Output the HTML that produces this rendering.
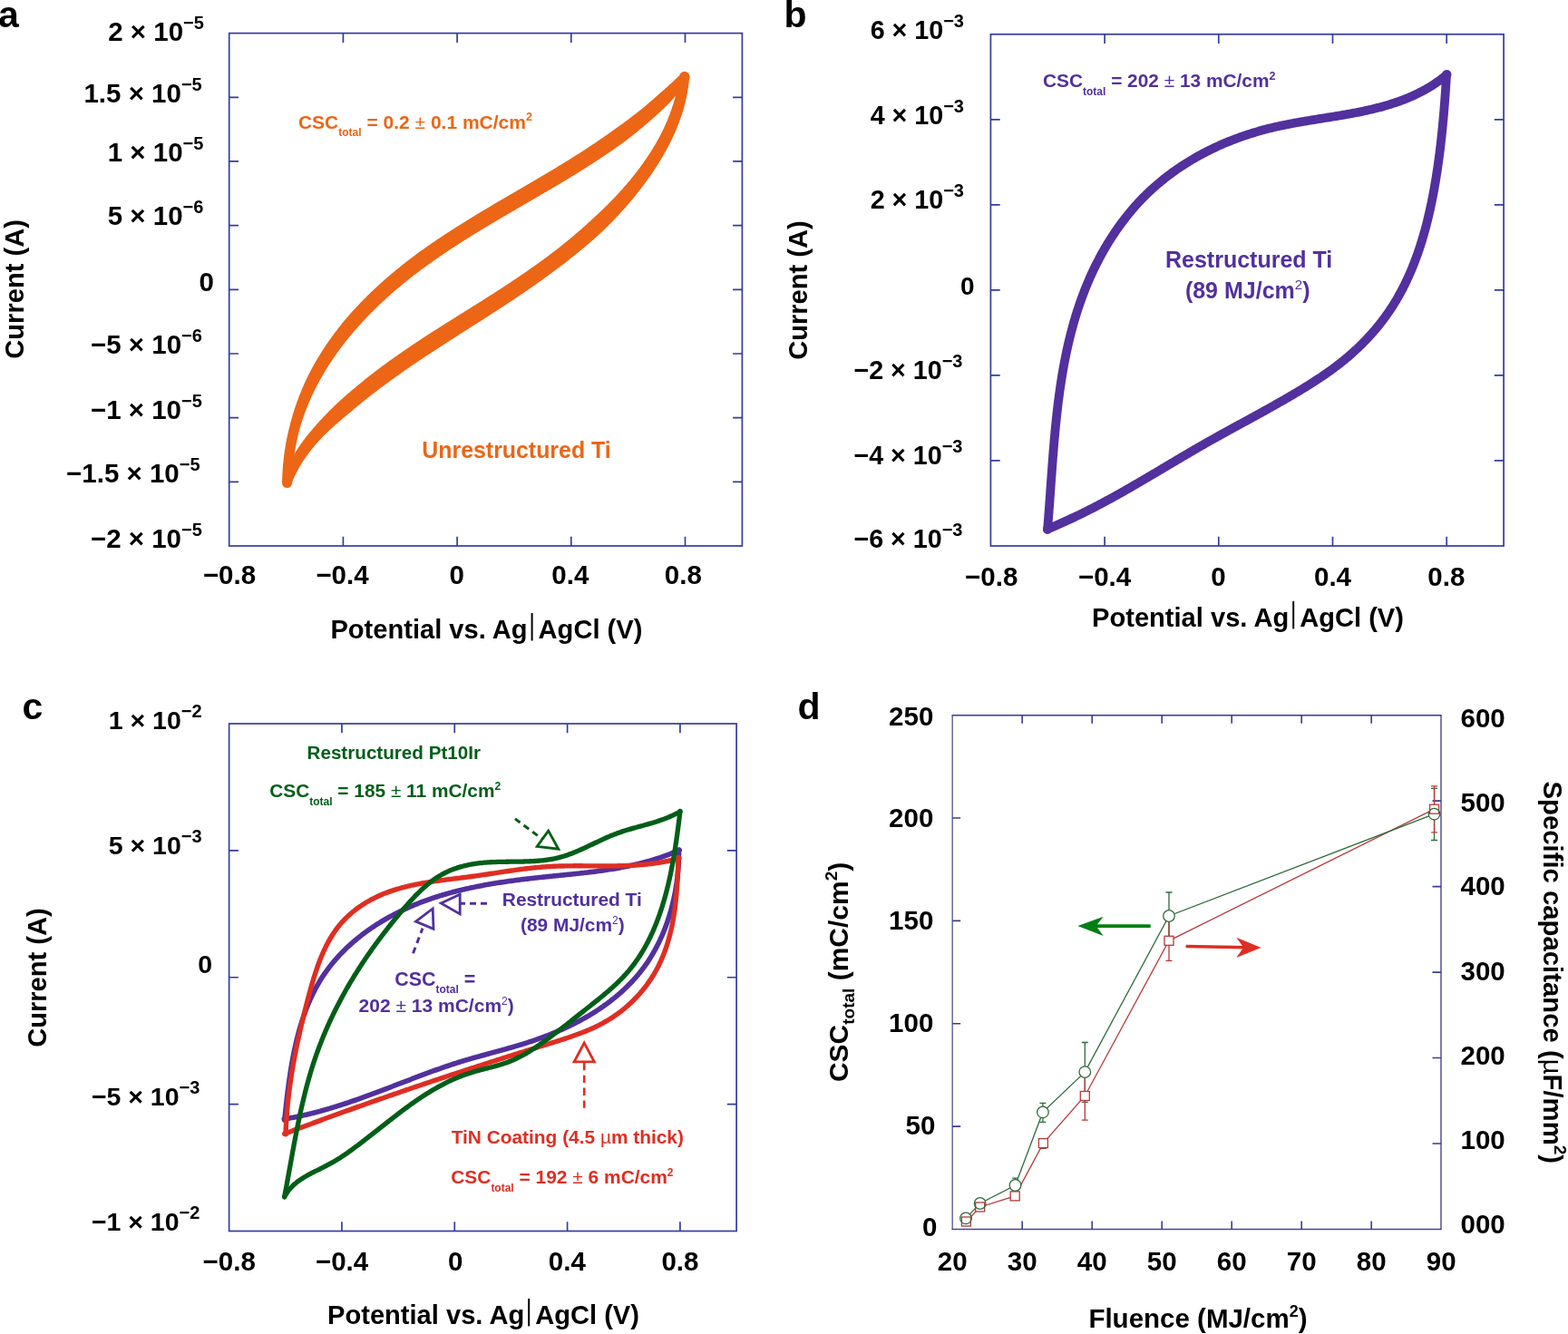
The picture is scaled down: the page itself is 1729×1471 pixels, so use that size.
<!DOCTYPE html>
<html><head><meta charset="utf-8"><title>Figure</title>
<style>html,body{margin:0;padding:0;background:#fff;overflow:hidden}svg{display:block}</style>
</head><body>
<svg width="1729" height="1471" viewBox="0 0 1729 1471" font-family="'Liberation Sans', Arial, Helvetica, sans-serif">
<rect width="1729" height="1471" fill="#fff"/>
<text x="-2" y="30" font-size="41" text-anchor="start" fill="#000" font-weight="bold" >a</text>
<text x="864.5" y="29.9" font-size="41" text-anchor="start" fill="#000" font-weight="bold" >b</text>
<text x="24.6" y="793" font-size="41" text-anchor="start" fill="#000" font-weight="bold" >c</text>
<text x="879.6" y="792.9" font-size="41" text-anchor="start" fill="#000" font-weight="bold" >d</text>
<rect x="252.7" y="36.6" width="565.7" height="565.4" fill="none" stroke="#343c9c" stroke-width="1.7"/>
<path d="M378.4,602v-10.3M378.4,36.6v10.3M504.1,602v-10.3M504.1,36.6v10.3M629.8,602v-10.3M629.8,36.6v10.3M755.5,602v-10.3M755.5,36.6v10.3M252.7,107.28h10.3M818.4,107.28h-10.3M252.7,177.95h10.3M818.4,177.95h-10.3M252.7,248.62h10.3M818.4,248.62h-10.3M252.7,319.3h10.3M818.4,319.3h-10.3M252.7,389.98h10.3M818.4,389.98h-10.3M252.7,460.65h10.3M818.4,460.65h-10.3M252.7,531.32h10.3M818.4,531.32h-10.3" stroke="#343c9c" stroke-width="1.7" fill="none"/>
<path d="M322.12,532.7 L322.16,530.95 L322.21,529.22 L322.27,527.5 L322.34,525.78 L322.42,524.07 L322.52,522.36 L322.62,520.65 L322.74,518.96 L322.87,517.26 L323.01,515.58 L323.16,513.89 L323.32,512.21 L323.49,510.54 L323.68,508.87 L323.87,507.21 L324.07,505.55 L324.29,503.9 L324.52,502.25 L324.75,500.61 L325,498.97 L325.26,497.34 L325.53,495.71 L325.8,494.08 L326.09,492.46 L326.39,490.85 L326.7,489.24 L327.02,487.63 L327.35,486.04 L327.69,484.44 L328.04,482.85 L328.4,481.26 L328.77,479.68 L329.15,478.11 L329.54,476.54 L329.94,474.97 L330.35,473.41 L330.77,471.85 L331.2,470.3 L331.65,468.75 L332.12,467.22 L332.61,465.69 L333.1,464.16 L333.6,462.64 L334.11,461.13 L334.63,459.62 L335.16,458.11 L335.7,456.61 L336.25,455.12 L336.81,453.63 L337.37,452.14 L337.95,450.66 L338.53,449.18 L339.12,447.71 L339.72,446.25 L340.33,444.78 L340.95,443.33 L341.58,441.88 L342.21,440.43 L342.86,438.99 L343.51,437.55 L344.17,436.12 L344.84,434.69 L345.51,433.26 L346.2,431.85 L346.89,430.43 L347.59,429.02 L348.3,427.62 L349.02,426.22 L349.75,424.82 L350.48,423.43 L351.22,422.05 L351.97,420.66 L352.73,419.29 L353.49,417.92 L354.26,416.55 L355.04,415.19 L355.83,413.83 L356.63,412.47 L357.43,411.12 L358.23,409.77 L359.04,408.43 L359.85,407.09 L360.67,405.75 L361.5,404.42 L362.34,403.09 L363.19,401.77 L364.04,400.45 L364.9,399.13 L365.76,397.82 L366.64,396.52 L367.52,395.22 L368.4,393.92 L369.3,392.63 L370.2,391.34 L371.11,390.05 L372.02,388.77 L372.94,387.5 L373.87,386.23 L374.8,384.96 L375.74,383.7 L376.69,382.44 L377.64,381.18 L378.6,379.93 L379.57,378.69 L380.54,377.45 L381.52,376.21 L382.51,374.98 L383.5,373.75 L384.5,372.53 L385.5,371.31 L386.51,370.09 L387.53,368.88 L388.55,367.67 L389.57,366.47 L390.61,365.27 L391.65,364.08 L392.69,362.89 L393.74,361.7 L394.8,360.52 L395.85,359.33 L396.91,358.15 L397.97,356.97 L399.04,355.79 L400.11,354.62 L401.19,353.46 L402.27,352.29 L403.36,351.14 L404.45,349.98 L405.55,348.83 L406.66,347.68 L407.77,346.54 L408.88,345.4 L410,344.27 L411.13,343.14 L412.26,342.01 L413.39,340.89 L414.53,339.77 L415.68,338.66 L416.82,337.55 L417.98,336.44 L419.14,335.34 L420.3,334.24 L421.47,333.14 L422.64,332.05 L423.81,330.97 L424.99,329.89 L426.18,328.81 L427.37,327.73 L428.56,326.66 L429.76,325.6 L430.96,324.53 L432.16,323.47 L433.37,322.42 L434.59,321.37 L435.8,320.32 L437.03,319.28 L438.25,318.24 L439.48,317.2 L440.71,316.17 L441.95,315.15 L443.19,314.12 L444.43,313.1 L445.68,312.09 L446.93,311.08 L448.18,310.07 L449.44,309.07 L450.7,308.07 L451.96,307.07 L453.23,306.08 L454.5,305.09 L455.77,304.1 L457.05,303.12 L458.33,302.15 L459.61,301.17 L460.89,300.2 L462.18,299.23 L463.47,298.27 L464.77,297.31 L466.07,296.36 L467.36,295.4 L468.66,294.44 L469.96,293.49 L471.27,292.54 L472.58,291.6 L473.89,290.65 L475.2,289.72 L476.52,288.78 L477.83,287.85 L479.16,286.92 L480.48,285.99 L481.81,285.06 L483.14,284.14 L484.47,283.22 L485.8,282.31 L487.14,281.39 L488.48,280.48 L489.82,279.57 L491.16,278.67 L492.51,277.77 L493.86,276.87 L495.21,275.97 L496.56,275.07 L497.91,274.18 L499.27,273.29 L500.63,272.4 L501.99,271.51 L503.35,270.63 L504.72,269.75 L506.09,268.87 L507.45,267.99 L508.83,267.11 L510.2,266.24 L511.57,265.37 L512.95,264.5 L514.33,263.63 L515.71,262.77 L517.09,261.9 L518.47,261.04 L519.86,260.18 L521.24,259.32 L522.63,258.46 L524.02,257.61 L525.41,256.75 L526.81,255.9 L528.2,255.05 L529.6,254.2 L530.99,253.35 L532.39,252.5 L533.79,251.66 L535.19,250.81 L536.59,249.97 L538,249.13 L539.4,248.29 L540.81,247.45 L542.21,246.61 L543.62,245.77 L545.03,244.93 L546.44,244.1 L547.85,243.26 L549.26,242.43 L550.67,241.59 L552.09,240.76 L553.5,239.93 L554.92,239.1 L556.33,238.27 L557.75,237.44 L559.16,236.61 L560.58,235.78 L562,234.95 L563.42,234.12 L564.84,233.29 L566.26,232.47 L567.68,231.64 L569.1,230.81 L570.52,229.99 L571.94,229.16 L573.36,228.33 L574.79,227.51 L576.21,226.68 L577.63,225.85 L579.06,225.03 L580.48,224.2 L581.9,223.37 L583.32,222.55 L584.75,221.72 L586.17,220.89 L587.6,220.06 L589.02,219.24 L590.44,218.41 L591.87,217.58 L593.29,216.75 L594.71,215.92 L596.13,215.09 L597.56,214.26 L598.98,213.43 L600.4,212.59 L601.82,211.76 L603.24,210.93 L604.66,210.09 L606.08,209.26 L607.5,208.42 L608.92,207.58 L610.34,206.74 L611.76,205.9 L613.18,205.06 L614.59,204.22 L616.01,203.38 L617.42,202.53 L618.84,201.69 L620.25,200.84 L621.67,199.99 L623.08,199.14 L624.49,198.29 L625.9,197.44 L627.31,196.59 L628.72,195.73 L630.12,194.87 L631.53,194.01 L632.93,193.15 L634.34,192.29 L635.74,191.43 L637.14,190.56 L638.54,189.69 L639.94,188.82 L641.34,187.95 L642.74,187.08 L644.13,186.2 L645.52,185.32 L646.92,184.44 L648.31,183.56 L649.7,182.68 L651.08,181.79 L652.47,180.9 L653.85,180.01 L655.24,179.11 L656.62,178.22 L657.99,177.32 L659.37,176.42 L660.75,175.51 L662.12,174.61 L663.49,173.7 L664.86,172.79 L666.23,171.87 L667.6,170.95 L668.96,170.03 L670.32,169.11 L671.68,168.18 L673.04,167.25 L674.39,166.32 L675.75,165.39 L677.1,164.45 L678.45,163.5 L679.79,162.56 L681.14,161.61 L682.48,160.66 L683.82,159.71 L685.16,158.75 L686.49,157.79 L687.81,156.81 L689.12,155.81 L690.43,154.82 L691.74,153.81 L693.04,152.81 L694.34,151.8 L695.63,150.79 L696.92,149.77 L698.21,148.75 L699.5,147.73 L700.79,146.7 L702.07,145.67 L703.34,144.63 L704.62,143.59 L705.89,142.55 L707.16,141.5 L708.42,140.45 L709.68,139.4 L710.94,138.34 L712.2,137.27 L713.45,136.2 L714.7,135.13 L715.94,134.05 L717.18,132.97 L718.42,131.89 L719.65,130.8 L720.88,129.7 L722.11,128.61 L723.33,127.5 L724.55,126.39 L725.76,125.28 L726.98,124.17 L728.18,123.04 L729.39,121.92 L730.59,120.79 L731.78,119.65 L732.97,118.51 L734.16,117.36 L735.34,116.21 L736.52,115.05 L737.69,113.89 L738.81,112.68 L739.93,111.45 L741.05,110.23 L742.16,109 L743.26,107.77 L744.36,106.53 L745.45,105.28 L746.54,104.03 L747.62,102.78 L748.7,101.52 L749.78,100.25 L750.85,98.98 L751.91,97.71 L752.97,96.43 L754.02,95.14 L755.07,93.85 L756.11,92.56 L757.15,91.26 L758.18,89.95 L759.2,88.65 L750.96,81.36 L749.81,82.51 L748.66,83.65 L747.51,84.77 L746.35,85.9 L745.19,87.01 L744.03,88.12 L742.86,89.23 L741.69,90.32 L740.52,91.42 L739.34,92.5 L738.15,93.58 L736.97,94.66 L735.78,95.73 L734.58,96.79 L733.38,97.85 L732.18,98.9 L730.97,99.95 L729.76,100.99 L728.55,102.02 L727.33,103.06 L726.16,104.13 L724.98,105.2 L723.8,106.26 L722.61,107.32 L721.42,108.38 L720.23,109.43 L719.03,110.48 L717.83,111.52 L716.62,112.55 L715.41,113.59 L714.2,114.62 L712.99,115.64 L711.76,116.66 L710.54,117.67 L709.31,118.68 L708.08,119.69 L706.85,120.69 L705.61,121.69 L704.37,122.68 L703.12,123.67 L701.87,124.66 L700.62,125.64 L699.36,126.62 L698.11,127.59 L696.84,128.56 L695.58,129.53 L694.31,130.49 L693.04,131.45 L691.76,132.41 L690.48,133.36 L689.2,134.31 L687.91,135.25 L686.63,136.19 L685.34,137.13 L684.04,138.06 L682.74,138.99 L681.44,139.92 L680.14,140.84 L678.83,141.77 L677.53,142.68 L676.23,143.61 L674.93,144.55 L673.63,145.49 L672.33,146.42 L671.03,147.35 L669.72,148.27 L668.41,149.2 L667.1,150.12 L665.78,151.03 L664.46,151.95 L663.14,152.86 L661.82,153.77 L660.49,154.68 L659.16,155.58 L657.83,156.48 L656.5,157.38 L655.16,158.28 L653.82,159.18 L652.48,160.07 L651.14,160.96 L649.8,161.85 L648.45,162.73 L647.1,163.62 L645.75,164.5 L644.39,165.38 L643.03,166.26 L641.68,167.13 L640.31,168 L638.95,168.88 L637.59,169.75 L636.22,170.61 L634.85,171.48 L633.48,172.34 L632.11,173.21 L630.73,174.07 L629.36,174.93 L627.98,175.79 L626.6,176.64 L625.22,177.5 L623.83,178.35 L622.45,179.2 L621.06,180.05 L619.68,180.9 L618.29,181.75 L616.89,182.6 L615.5,183.44 L614.11,184.29 L612.71,185.13 L611.32,185.97 L609.92,186.81 L608.52,187.65 L607.12,188.49 L605.72,189.33 L604.31,190.17 L602.91,191 L601.5,191.84 L600.1,192.67 L598.69,193.51 L597.28,194.34 L595.87,195.18 L594.46,196.01 L593.05,196.84 L591.64,197.67 L590.23,198.5 L588.81,199.33 L587.4,200.16 L585.98,200.99 L584.57,201.82 L583.15,202.65 L581.73,203.48 L580.31,204.31 L578.9,205.14 L577.48,205.97 L576.06,206.8 L574.64,207.63 L573.22,208.45 L571.79,209.28 L570.37,210.11 L568.95,210.94 L567.53,211.77 L566.11,212.6 L564.69,213.43 L563.26,214.26 L561.84,215.09 L560.42,215.92 L558.99,216.76 L557.57,217.59 L556.15,218.42 L554.73,219.25 L553.3,220.09 L551.88,220.92 L550.46,221.76 L549.04,222.6 L547.61,223.43 L546.19,224.27 L544.77,225.11 L543.35,225.95 L541.93,226.79 L540.51,227.63 L539.09,228.48 L537.67,229.32 L536.25,230.17 L534.83,231.01 L533.41,231.86 L531.99,232.71 L530.57,233.56 L529.16,234.41 L527.74,235.27 L526.33,236.12 L524.91,236.98 L523.5,237.84 L522.08,238.7 L520.67,239.56 L519.26,240.42 L517.85,241.28 L516.44,242.15 L515.03,243.02 L513.63,243.89 L512.22,244.76 L510.82,245.64 L509.41,246.51 L508.01,247.39 L506.61,248.27 L505.21,249.15 L503.81,250.04 L502.41,250.92 L501.01,251.81 L499.62,252.7 L498.23,253.6 L496.83,254.49 L495.44,255.39 L494.05,256.29 L492.67,257.2 L491.28,258.1 L489.9,259.01 L488.51,259.92 L487.13,260.84 L485.75,261.75 L484.38,262.67 L483,263.6 L481.63,264.52 L480.26,265.45 L478.89,266.38 L477.52,267.32 L476.15,268.25 L474.79,269.19 L473.43,270.14 L472.07,271.08 L470.71,272.03 L469.35,272.99 L468,273.94 L466.65,274.9 L465.3,275.87 L463.96,276.83 L462.61,277.81 L461.27,278.78 L459.93,279.76 L458.59,280.74 L457.26,281.72 L455.93,282.71 L454.6,283.71 L453.28,284.71 L451.96,285.72 L450.64,286.73 L449.33,287.74 L448.02,288.76 L446.71,289.78 L445.4,290.8 L444.1,291.83 L442.8,292.87 L441.5,293.9 L440.21,294.95 L438.92,295.99 L437.63,297.04 L436.35,298.1 L435.07,299.16 L433.79,300.22 L432.51,301.29 L431.24,302.36 L429.97,303.43 L428.71,304.51 L427.45,305.6 L426.19,306.68 L424.94,307.78 L423.69,308.87 L422.45,309.97 L421.2,311.08 L419.97,312.19 L418.73,313.3 L417.5,314.42 L416.28,315.54 L415.06,316.67 L413.84,317.8 L412.62,318.94 L411.42,320.08 L410.21,321.22 L409.01,322.37 L407.82,323.52 L406.62,324.68 L405.44,325.84 L404.26,327.01 L403.08,328.18 L401.91,329.35 L400.74,330.53 L399.57,331.72 L398.42,332.9 L397.26,334.1 L396.11,335.29 L394.97,336.49 L393.83,337.7 L392.7,338.91 L391.57,340.13 L390.45,341.34 L389.33,342.57 L388.22,343.8 L387.11,345.03 L386.01,346.27 L384.92,347.51 L383.83,348.75 L382.74,350.01 L381.68,351.27 L380.61,352.54 L379.56,353.81 L378.51,355.09 L377.46,356.37 L376.42,357.66 L375.39,358.95 L374.36,360.24 L373.34,361.54 L372.33,362.85 L371.32,364.16 L370.32,365.47 L369.33,366.79 L368.34,368.11 L367.36,369.44 L366.38,370.77 L365.41,372.1 L364.45,373.44 L363.49,374.79 L362.54,376.14 L361.6,377.49 L360.67,378.85 L359.74,380.21 L358.82,381.58 L357.91,382.95 L357,384.33 L356.1,385.71 L355.21,387.1 L354.32,388.49 L353.44,389.88 L352.57,391.28 L351.71,392.68 L350.85,394.09 L350.01,395.51 L349.17,396.92 L348.33,398.35 L347.51,399.77 L346.69,401.2 L345.88,402.64 L345.08,404.08 L344.29,405.53 L343.52,406.98 L342.75,408.44 L341.99,409.91 L341.24,411.38 L340.5,412.85 L339.76,414.33 L339.03,415.81 L338.32,417.3 L337.61,418.79 L336.91,420.28 L336.21,421.78 L335.53,423.29 L334.86,424.8 L334.19,426.31 L333.53,427.83 L332.88,429.35 L332.24,430.88 L331.61,432.41 L330.99,433.95 L330.38,435.49 L329.78,437.03 L329.18,438.58 L328.6,440.14 L328.02,441.7 L327.46,443.26 L326.9,444.83 L326.35,446.4 L325.81,447.98 L325.29,449.56 L324.77,451.14 L324.26,452.73 L323.76,454.33 L323.27,455.93 L322.79,457.53 L322.32,459.14 L321.86,460.75 L321.41,462.37 L320.97,463.99 L320.54,465.62 L320.11,467.25 L319.68,468.88 L319.25,470.51 L318.83,472.15 L318.43,473.79 L318.03,475.44 L317.65,477.09 L317.28,478.75 L316.91,480.41 L316.56,482.08 L316.22,483.75 L315.88,485.42 L315.56,487.1 L315.25,488.79 L314.95,490.48 L314.66,492.18 L314.38,493.88 L314.12,495.58 L313.86,497.29 L313.61,499.01 L313.38,500.73 L313.16,502.46 L312.94,504.18 L312.74,505.92 L312.55,507.66 L312.38,509.4 L312.21,511.15 L312.05,512.91 L311.91,514.67 L311.78,516.43 L311.66,518.2 L311.55,519.97 L311.45,521.75 L311.37,523.53 L311.29,525.32 L311.23,527.11 L311.18,528.91 L311.14,530.71 L311.12,532.5 Z" fill="#ec6616"/>
<circle cx="316.62" cy="532.6" r="5.5" fill="#ec6616"/>
<circle cx="755.08" cy="85.01" r="5.5" fill="#ec6616"/>
<path d="M749.26,83.77 L749.05,85.37 L748.82,86.94 L748.58,88.5 L748.32,90.06 L748.06,91.62 L747.77,93.17 L747.48,94.72 L747.17,96.26 L746.84,97.79 L746.5,99.32 L746.15,100.85 L745.79,102.37 L745.41,103.89 L745.02,105.41 L744.61,106.91 L744.2,108.42 L743.77,109.92 L743.33,111.41 L742.87,112.9 L742.41,114.39 L741.95,115.88 L741.48,117.36 L740.99,118.84 L740.49,120.31 L739.99,121.78 L739.46,123.25 L738.93,124.71 L738.39,126.17 L737.83,127.62 L737.27,129.07 L736.69,130.52 L736.1,131.96 L735.5,133.4 L734.89,134.83 L734.27,136.26 L733.64,137.68 L732.99,139.1 L732.34,140.52 L731.68,141.93 L731,143.33 L730.32,144.74 L729.63,146.14 L728.92,147.53 L728.21,148.92 L727.49,150.31 L726.76,151.69 L726.01,153.07 L725.26,154.44 L724.5,155.81 L723.72,157.17 L722.94,158.53 L722.14,159.88 L721.34,161.23 L720.53,162.57 L719.71,163.91 L718.89,165.25 L718.05,166.58 L717.21,167.9 L716.36,169.23 L715.5,170.54 L714.63,171.86 L713.76,173.17 L712.88,174.47 L711.99,175.77 L711.09,177.07 L710.19,178.36 L709.28,179.65 L708.36,180.93 L707.44,182.21 L706.51,183.48 L705.57,184.75 L704.63,186.02 L703.68,187.28 L702.73,188.53 L701.76,189.78 L700.8,191.03 L699.82,192.27 L698.84,193.51 L697.86,194.75 L696.87,195.97 L695.87,197.2 L694.87,198.41 L693.86,199.63 L692.84,200.83 L691.82,202.04 L690.8,203.23 L689.77,204.43 L688.74,205.62 L687.7,206.8 L686.65,207.98 L685.61,209.16 L684.55,210.33 L683.49,211.5 L682.43,212.66 L681.36,213.82 L680.29,214.98 L679.22,216.13 L678.13,217.27 L677.05,218.41 L675.96,219.55 L674.86,220.68 L673.76,221.81 L672.66,222.94 L671.55,224.06 L670.44,225.18 L669.32,226.29 L668.2,227.4 L667.08,228.51 L665.95,229.61 L664.81,230.7 L663.68,231.8 L662.53,232.89 L661.39,233.97 L660.24,235.06 L659.09,236.13 L657.93,237.21 L656.77,238.28 L655.6,239.35 L654.43,240.41 L653.27,241.48 L652.11,242.56 L650.95,243.64 L649.79,244.71 L648.63,245.78 L647.46,246.85 L646.28,247.91 L645.11,248.97 L643.92,250.03 L642.74,251.08 L641.55,252.13 L640.36,253.18 L639.17,254.22 L637.97,255.26 L636.77,256.3 L635.56,257.33 L634.35,258.36 L633.14,259.39 L631.93,260.42 L630.71,261.44 L629.49,262.46 L628.26,263.47 L627.04,264.49 L625.8,265.5 L624.57,266.5 L623.33,267.51 L622.1,268.51 L620.85,269.51 L619.61,270.5 L618.36,271.5 L617.11,272.49 L615.85,273.47 L614.6,274.46 L613.34,275.44 L612.08,276.42 L610.81,277.4 L609.55,278.37 L608.28,279.34 L607.01,280.31 L605.73,281.28 L604.45,282.24 L603.17,283.19 L601.88,284.14 L600.59,285.09 L599.3,286.04 L598.01,286.98 L596.71,287.92 L595.41,288.86 L594.11,289.8 L592.81,290.73 L591.51,291.67 L590.2,292.59 L588.9,293.52 L587.59,294.45 L586.28,295.37 L584.96,296.29 L583.65,297.21 L582.33,298.13 L581.01,299.04 L579.69,299.95 L578.37,300.86 L577.05,301.77 L575.73,302.68 L574.4,303.58 L573.07,304.48 L571.74,305.38 L570.41,306.28 L569.08,307.18 L567.75,308.07 L566.42,308.97 L565.08,309.86 L563.75,310.75 L562.41,311.63 L561.07,312.52 L559.73,313.4 L558.39,314.28 L557.05,315.16 L555.71,316.04 L554.36,316.92 L553.02,317.8 L551.67,318.67 L550.33,319.54 L548.98,320.41 L547.63,321.28 L546.28,322.15 L544.93,323.02 L543.59,323.88 L542.23,324.75 L540.88,325.61 L539.53,326.47 L538.18,327.34 L536.83,328.2 L535.47,329.05 L534.12,329.91 L532.76,330.77 L531.41,331.63 L530.05,332.48 L528.69,333.34 L527.34,334.19 L525.98,335.05 L524.62,335.9 L523.26,336.76 L521.9,337.61 L520.54,338.46 L519.18,339.31 L517.82,340.16 L516.46,341.02 L515.1,341.87 L513.74,342.72 L512.38,343.57 L511.02,344.42 L509.66,345.27 L508.3,346.12 L506.94,346.97 L505.57,347.83 L504.21,348.68 L502.85,349.53 L501.49,350.38 L500.13,351.23 L498.76,352.09 L497.4,352.94 L496.04,353.79 L494.68,354.65 L493.32,355.5 L491.95,356.36 L490.59,357.22 L489.23,358.07 L487.87,358.93 L486.51,359.79 L485.15,360.65 L483.79,361.51 L482.43,362.38 L481.07,363.24 L479.71,364.1 L478.35,364.97 L476.99,365.84 L475.63,366.7 L474.27,367.57 L472.91,368.44 L471.55,369.32 L470.2,370.2 L468.85,371.08 L467.5,371.97 L466.15,372.85 L464.8,373.74 L463.45,374.63 L462.1,375.52 L460.75,376.42 L459.41,377.31 L458.06,378.21 L456.72,379.11 L455.37,380.01 L454.03,380.92 L452.68,381.82 L451.34,382.73 L450,383.64 L448.66,384.56 L447.32,385.47 L445.98,386.39 L444.64,387.31 L443.31,388.23 L441.97,389.16 L440.64,390.09 L439.3,391.02 L437.97,391.95 L436.64,392.89 L435.31,393.82 L433.98,394.77 L432.65,395.71 L431.32,396.66 L430,397.61 L428.67,398.56 L427.35,399.51 L426.03,400.47 L424.71,401.43 L423.39,402.4 L422.08,403.36 L420.76,404.33 L419.45,405.31 L418.14,406.28 L416.83,407.27 L415.54,408.26 L414.24,409.26 L412.94,410.26 L411.65,411.26 L410.36,412.26 L409.07,413.27 L407.78,414.28 L406.5,415.29 L405.21,416.31 L403.93,417.33 L402.65,418.35 L401.38,419.37 L400.1,420.4 L398.83,421.43 L397.56,422.47 L396.29,423.5 L395.03,424.54 L393.77,425.59 L392.51,426.63 L391.25,427.68 L390,428.73 L388.74,429.79 L387.49,430.85 L386.25,431.91 L385,432.97 L383.76,434.04 L382.52,435.11 L381.29,436.19 L380.06,437.26 L378.83,438.34 L377.6,439.43 L376.38,440.52 L375.15,441.61 L373.94,442.7 L372.72,443.8 L371.54,444.93 L370.36,446.07 L369.19,447.21 L368.02,448.35 L366.85,449.5 L365.68,450.65 L364.52,451.8 L363.36,452.96 L362.2,454.12 L361.05,455.29 L359.91,456.47 L358.76,457.65 L357.63,458.83 L356.49,460.02 L355.37,461.21 L354.25,462.41 L353.13,463.62 L352.02,464.83 L350.92,466.05 L349.82,467.27 L348.73,468.5 L347.65,469.74 L346.58,470.98 L345.51,472.23 L344.43,473.47 L343.36,474.72 L342.3,475.98 L341.25,477.24 L340.21,478.51 L339.17,479.79 L338.15,481.07 L337.13,482.37 L336.13,483.67 L335.13,484.98 L334.15,486.3 L333.18,487.63 L332.21,488.97 L331.26,490.31 L330.32,491.67 L329.39,493.03 L328.48,494.41 L327.58,495.79 L326.69,497.19 L325.81,498.59 L324.94,500 L324.09,501.43 L323.25,502.86 L322.43,504.31 L321.62,505.76 L320.83,507.23 L320.05,508.7 L319.28,510.19 L318.54,511.69 L317.8,513.2 L317.09,514.72 L316.38,516.25 L315.7,517.79 L315.03,519.35 L314.38,520.91 L313.75,522.49 L313.13,524.08 L312.53,525.68 L311.95,527.3 L311.4,528.89 L321.72,532.71 L322.32,531.21 L322.92,529.75 L323.54,528.31 L324.17,526.87 L324.82,525.45 L325.48,524.04 L326.17,522.64 L326.86,521.25 L327.57,519.88 L328.29,518.51 L329.03,517.16 L329.79,515.81 L330.55,514.48 L331.33,513.15 L332.13,511.84 L332.93,510.53 L333.76,509.24 L334.59,507.95 L335.44,506.67 L336.3,505.41 L337.17,504.15 L338.05,502.9 L338.95,501.65 L339.86,500.42 L340.77,499.2 L341.71,497.98 L342.65,496.77 L343.6,495.57 L344.57,494.37 L345.54,493.18 L346.53,492 L347.52,490.83 L348.53,489.67 L349.54,488.51 L350.57,487.35 L351.6,486.21 L352.65,485.07 L353.7,483.93 L354.76,482.8 L355.83,481.68 L356.93,480.58 L358.04,479.48 L359.15,478.4 L360.27,477.31 L361.4,476.23 L362.53,475.16 L363.68,474.09 L364.83,473.03 L365.98,471.97 L367.15,470.91 L368.32,469.86 L369.49,468.82 L370.67,467.77 L371.86,466.74 L373.05,465.7 L374.25,464.67 L375.45,463.64 L376.66,462.61 L377.87,461.59 L379.09,460.57 L380.31,459.55 L381.53,458.54 L382.76,457.53 L383.99,456.52 L385.19,455.48 L386.4,454.45 L387.61,453.42 L388.82,452.39 L390.04,451.36 L391.26,450.34 L392.48,449.32 L393.7,448.3 L394.93,447.28 L396.16,446.27 L397.39,445.26 L398.63,444.26 L399.87,443.26 L401.11,442.26 L402.36,441.26 L403.6,440.27 L404.85,439.28 L406.1,438.29 L407.36,437.3 L408.62,436.32 L409.88,435.34 L411.14,434.36 L412.4,433.39 L413.67,432.42 L414.94,431.45 L416.21,430.48 L417.48,429.52 L418.76,428.56 L420.04,427.6 L421.32,426.65 L422.6,425.7 L423.88,424.75 L425.17,423.8 L426.46,422.86 L427.75,421.92 L429.04,420.98 L430.33,420.03 L431.61,419.09 L432.9,418.15 L434.19,417.21 L435.49,416.27 L436.78,415.34 L438.08,414.41 L439.38,413.48 L440.68,412.55 L441.98,411.63 L443.28,410.71 L444.59,409.79 L445.89,408.87 L447.2,407.96 L448.51,407.05 L449.82,406.14 L451.13,405.23 L452.44,404.33 L453.76,403.43 L455.08,402.53 L456.39,401.63 L457.71,400.74 L459.03,399.84 L460.36,398.95 L461.68,398.06 L463,397.17 L464.33,396.29 L465.66,395.4 L466.99,394.52 L468.32,393.64 L469.65,392.76 L470.98,391.89 L472.31,391.01 L473.65,390.14 L474.98,389.26 L476.32,388.39 L477.66,387.52 L479,386.65 L480.34,385.79 L481.68,384.92 L483.01,384.04 L484.35,383.17 L485.69,382.3 L487.03,381.43 L488.37,380.56 L489.71,379.69 L491.05,378.82 L492.39,377.95 L493.74,377.09 L495.08,376.22 L496.43,375.36 L497.77,374.49 L499.12,373.63 L500.47,372.76 L501.81,371.9 L503.16,371.04 L504.51,370.17 L505.86,369.31 L507.21,368.45 L508.56,367.59 L509.91,366.73 L511.27,365.86 L512.62,365 L513.97,364.14 L515.33,363.28 L516.68,362.42 L518.03,361.56 L519.39,360.69 L520.74,359.83 L522.1,358.97 L523.45,358.1 L524.81,357.24 L526.17,356.38 L527.52,355.51 L528.88,354.65 L530.24,353.78 L531.59,352.92 L532.95,352.05 L534.31,351.18 L535.67,350.31 L537.02,349.44 L538.38,348.57 L539.74,347.7 L541.09,346.83 L542.45,345.95 L543.81,345.08 L545.17,344.2 L546.52,343.33 L547.88,342.45 L549.24,341.57 L550.59,340.69 L551.95,339.81 L553.31,338.92 L554.66,338.04 L556.02,337.15 L557.38,336.26 L558.73,335.37 L560.09,334.48 L561.44,333.59 L562.79,332.69 L564.15,331.79 L565.5,330.89 L566.85,329.99 L568.21,329.09 L569.56,328.19 L570.91,327.28 L572.26,326.37 L573.61,325.46 L574.95,324.55 L576.3,323.63 L577.65,322.71 L579,321.8 L580.34,320.87 L581.68,319.95 L583.03,319.02 L584.37,318.1 L585.71,317.17 L587.05,316.23 L588.39,315.3 L589.72,314.36 L591.06,313.42 L592.39,312.48 L593.73,311.54 L595.06,310.59 L596.39,309.64 L597.72,308.69 L599.05,307.73 L600.37,306.78 L601.7,305.82 L603.02,304.86 L604.34,303.89 L605.66,302.92 L606.98,301.95 L608.29,300.98 L609.61,300.01 L610.92,299.03 L612.23,298.05 L613.54,297.06 L614.84,296.08 L616.15,295.09 L617.46,294.11 L618.76,293.12 L620.06,292.13 L621.37,291.13 L622.66,290.14 L623.96,289.14 L625.26,288.13 L626.55,287.13 L627.84,286.12 L629.12,285.11 L630.41,284.09 L631.69,283.07 L632.97,282.05 L634.25,281.03 L635.52,280 L636.79,278.97 L638.06,277.93 L639.33,276.89 L640.59,275.85 L641.85,274.8 L643.11,273.76 L644.37,272.7 L645.62,271.65 L646.87,270.59 L648.12,269.53 L649.36,268.46 L650.6,267.39 L651.84,266.31 L653.07,265.24 L654.3,264.16 L655.53,263.07 L656.75,261.98 L657.97,260.89 L659.19,259.79 L660.4,258.69 L661.61,257.59 L662.82,256.48 L664.02,255.37 L665.22,254.26 L666.4,253.12 L667.57,251.97 L668.74,250.82 L669.9,249.67 L671.06,248.51 L672.21,247.35 L673.37,246.18 L674.51,245.01 L675.65,243.83 L676.79,242.66 L677.92,241.47 L679.05,240.29 L680.18,239.09 L681.3,237.9 L682.42,236.7 L683.53,235.5 L684.64,234.29 L685.74,233.08 L686.84,231.86 L687.93,230.64 L689.02,229.41 L690.1,228.19 L691.18,226.95 L692.26,225.71 L693.33,224.47 L694.39,223.23 L695.45,221.97 L696.51,220.72 L697.56,219.46 L698.61,218.19 L699.65,216.92 L700.68,215.65 L701.71,214.37 L702.74,213.09 L703.76,211.8 L704.77,210.51 L705.78,209.21 L706.78,207.91 L707.78,206.6 L708.77,205.29 L709.76,203.98 L710.75,202.66 L711.73,201.34 L712.7,200.01 L713.67,198.68 L714.64,197.34 L715.59,196 L716.54,194.65 L717.49,193.3 L718.43,191.94 L719.36,190.58 L720.28,189.21 L721.2,187.84 L722.11,186.46 L723.01,185.08 L723.91,183.69 L724.8,182.3 L725.68,180.9 L726.56,179.5 L727.42,178.09 L728.28,176.68 L729.13,175.26 L729.97,173.84 L730.81,172.41 L731.63,170.98 L732.45,169.55 L733.26,168.1 L734.06,166.66 L734.85,165.21 L735.63,163.75 L736.4,162.29 L737.17,160.82 L737.93,159.36 L738.68,157.88 L739.42,156.41 L740.15,154.92 L740.87,153.44 L741.58,151.95 L742.28,150.45 L742.97,148.95 L743.65,147.44 L744.32,145.93 L744.98,144.41 L745.63,142.89 L746.27,141.37 L746.89,139.84 L747.51,138.3 L748.11,136.76 L748.7,135.21 L749.28,133.66 L749.85,132.11 L750.41,130.55 L750.95,128.99 L751.48,127.42 L752,125.84 L752.51,124.26 L753.01,122.68 L753.49,121.09 L753.96,119.5 L754.41,117.9 L754.84,116.29 L755.25,114.68 L755.65,113.07 L756.03,111.45 L756.4,109.82 L756.76,108.19 L757.1,106.56 L757.42,104.92 L757.74,103.28 L758.04,101.63 L758.32,99.98 L758.59,98.33 L758.84,96.67 L759.08,95.01 L759.31,93.34 L759.52,91.67 L759.71,89.99 L759.89,88.32 L760.05,86.63 L760.19,84.97 Z" fill="#ec6616"/>
<circle cx="754.73" cy="84.37" r="5.5" fill="#ec6616"/>
<circle cx="316.56" cy="530.8" r="5.5" fill="#ec6616"/>
<text x="224.9" y="45" font-size="29.5" text-anchor="end" font-weight="bold">2 × 10<tspan font-size="20" dy="-13">−5</tspan></text>
<text x="222.7" y="112.8" font-size="29.5" text-anchor="end" font-weight="bold">1.5 × 10<tspan font-size="20" dy="-13">−5</tspan></text>
<text x="224.4" y="177.9" font-size="29.5" text-anchor="end" font-weight="bold">1 × 10<tspan font-size="20" dy="-13">−5</tspan></text>
<text x="224.4" y="247.9" font-size="29.5" text-anchor="end" font-weight="bold">5 × 10<tspan font-size="20" dy="-13">−6</tspan></text>
<text x="235.8" y="321.3" font-size="29.5" text-anchor="end" fill="#000" font-weight="bold" >0</text>
<text x="222.9" y="390" font-size="29.5" text-anchor="end" font-weight="bold">−5 × 10<tspan font-size="20" dy="-13">−6</tspan></text>
<text x="222.8" y="462.1" font-size="29.5" text-anchor="end" font-weight="bold">−1 × 10<tspan font-size="20" dy="-13">−5</tspan></text>
<text x="220.6" y="532.4" font-size="29.5" text-anchor="end" font-weight="bold">−1.5 × 10<tspan font-size="20" dy="-13">−5</tspan></text>
<text x="222.8" y="603.6" font-size="29.5" text-anchor="end" font-weight="bold">−2 × 10<tspan font-size="20" dy="-13">−5</tspan></text>
<text x="253" y="644.4" font-size="29.5" text-anchor="middle" fill="#000" font-weight="bold" >−0.8</text>
<text x="377.5" y="644.4" font-size="29.5" text-anchor="middle" fill="#000" font-weight="bold" >−0.4</text>
<text x="503.8" y="644.4" font-size="29.5" text-anchor="middle" fill="#000" font-weight="bold" >0</text>
<text x="628.8" y="644.4" font-size="29.5" text-anchor="middle" fill="#000" font-weight="bold" >0.4</text>
<text x="753.3" y="644.4" font-size="29.5" text-anchor="middle" fill="#000" font-weight="bold" >0.8</text>
<text x="581.6" y="704.4" font-size="29.1" text-anchor="end" fill="#000" font-weight="bold" >Potential vs. Ag</text>
<text x="593.6" y="704.4" font-size="29.1" text-anchor="start" fill="#000" font-weight="bold" >AgCl (V)</text>
<line x1="586.6" y1="676" x2="586.6" y2="706.5" stroke="#000" stroke-width="2"/>
<text x="25.9" y="318.9" font-size="29.1" text-anchor="middle" font-weight="bold" transform="rotate(-90 25.9 318.9)">Current (A)</text>
<text x="328.9" y="141.7" font-size="21" fill="#ec6616" font-weight="bold">CSC<tspan font-size="12" dy="8.5">total</tspan><tspan dy="-8.5"> = 0.2 <tspan font-weight="normal">±</tspan> 0.1 mC/cm<tspan font-size="12.5" dy="-8.5">2</tspan></tspan></text>
<text x="465.3" y="504.9" font-size="24.9" text-anchor="start" fill="#ec6616" font-weight="bold" >Unrestructured Ti</text>
<rect x="1092.4" y="37.8" width="565.7" height="564.2" fill="none" stroke="#343c9c" stroke-width="1.7"/>
<path d="M1218.1,602v-10.3M1218.1,37.8v10.3M1343.8,602v-10.3M1343.8,37.8v10.3M1469.5,602v-10.3M1469.5,37.8v10.3M1595.2,602v-10.3M1595.2,37.8v10.3M1092.4,131.83h10.3M1658.1,131.83h-10.3M1092.4,225.87h10.3M1658.1,225.87h-10.3M1092.4,319.9h10.3M1658.1,319.9h-10.3M1092.4,413.93h10.3M1658.1,413.93h-10.3M1092.4,507.97h10.3M1658.1,507.97h-10.3" stroke="#343c9c" stroke-width="1.7" fill="none"/>
<path d="M1159.9,584.43 L1160.06,582.56 L1160.21,580.69 L1160.37,578.82 L1160.52,576.94 L1160.67,575.07 L1160.82,573.19 L1160.97,571.31 L1161.12,569.43 L1161.26,567.56 L1161.41,565.68 L1161.55,563.79 L1161.69,561.91 L1161.83,560.03 L1161.97,558.15 L1162.11,556.26 L1162.25,554.38 L1162.39,552.49 L1162.52,550.6 L1162.66,548.72 L1162.79,546.83 L1162.93,544.94 L1163.06,543.05 L1163.2,541.16 L1163.33,539.27 L1163.47,537.38 L1163.6,535.49 L1163.74,533.59 L1163.87,531.7 L1164.01,529.81 L1164.14,527.92 L1164.28,526.02 L1164.42,524.13 L1164.55,522.23 L1164.69,520.34 L1164.83,518.45 L1164.97,516.55 L1165.11,514.66 L1165.25,512.76 L1165.39,510.87 L1165.54,508.97 L1165.68,507.08 L1165.83,505.18 L1165.98,503.29 L1166.12,501.39 L1166.27,499.5 L1166.43,497.6 L1166.58,495.71 L1166.74,493.81 L1166.89,491.92 L1167.05,490.02 L1167.22,488.13 L1167.38,486.24 L1167.55,484.34 L1167.71,482.45 L1167.89,480.56 L1168.06,478.67 L1168.23,476.78 L1168.41,474.89 L1168.59,473 L1168.78,471.11 L1168.96,469.22 L1169.15,467.33 L1169.35,465.44 L1169.54,463.55 L1169.74,461.67 L1169.94,459.78 L1170.15,457.9 L1170.36,456.01 L1170.57,454.13 L1170.79,452.25 L1171.01,450.36 L1171.23,448.48 L1171.46,446.6 L1171.69,444.72 L1171.93,442.85 L1172.17,440.97 L1172.41,439.09 L1172.66,437.22 L1172.91,435.35 L1173.17,433.47 L1173.43,431.6 L1173.69,429.73 L1173.96,427.87 L1174.24,426 L1174.52,424.13 L1174.8,422.27 L1175.09,420.4 L1175.39,418.54 L1175.69,416.68 L1175.99,414.82 L1176.3,412.97 L1176.62,411.11 L1176.94,409.26 L1177.26,407.4 L1177.6,405.55 L1177.93,403.7 L1178.28,401.85 L1178.63,400.01 L1178.98,398.16 L1179.34,396.32 L1179.71,394.48 L1180.08,392.64 L1180.46,390.81 L1180.85,388.97 L1181.24,387.14 L1181.64,385.31 L1182.05,383.48 L1182.46,381.65 L1182.88,379.82 L1183.3,378 L1183.74,376.18 L1184.17,374.36 L1184.62,372.54 L1185.07,370.73 L1185.54,368.92 L1186,367.11 L1186.48,365.3 L1186.96,363.49 L1187.45,361.69 L1187.95,359.89 L1188.45,358.09 L1188.97,356.3 L1189.49,354.5 L1190.02,352.71 L1190.55,350.92 L1191.1,349.14 L1191.65,347.35 L1192.21,345.57 L1192.78,343.8 L1193.36,342.02 L1193.95,340.25 L1194.54,338.48 L1195.15,336.71 L1195.76,334.94 L1196.38,333.18 L1197.01,331.42 L1197.65,329.67 L1198.3,327.91 L1198.95,326.16 L1199.62,324.42 L1200.29,322.67 L1200.98,320.93 L1201.67,319.19 L1202.38,317.46 L1203.09,315.72 L1203.81,313.99 L1204.54,312.27 L1205.29,310.54 L1206.04,308.82 L1206.8,307.11 L1207.57,305.4 L1208.35,303.69 L1209.15,301.98 L1209.95,300.28 L1210.76,298.58 L1211.58,296.89 L1212.41,295.2 L1213.25,293.51 L1214.1,291.83 L1214.96,290.15 L1215.83,288.48 L1216.71,286.82 L1217.6,285.16 L1218.5,283.5 L1219.41,281.85 L1220.32,280.2 L1221.25,278.56 L1222.19,276.93 L1223.14,275.3 L1224.09,273.68 L1225.06,272.06 L1226.04,270.46 L1227.02,268.85 L1228.02,267.26 L1229.03,265.67 L1230.04,264.08 L1231.07,262.51 L1232.1,260.94 L1233.15,259.38 L1234.2,257.82 L1235.26,256.27 L1236.34,254.74 L1237.42,253.2 L1238.51,251.68 L1239.61,250.16 L1240.73,248.66 L1241.85,247.16 L1242.98,245.67 L1244.12,244.18 L1245.27,242.71 L1246.43,241.25 L1247.6,239.79 L1248.77,238.34 L1249.96,236.91 L1251.16,235.48 L1252.37,234.06 L1253.58,232.65 L1254.81,231.25 L1256.04,229.86 L1257.29,228.48 L1258.54,227.11 L1259.81,225.75 L1261.08,224.4 L1262.36,223.06 L1263.66,221.74 L1264.96,220.42 L1266.27,219.11 L1267.59,217.81 L1268.92,216.53 L1270.26,215.25 L1271.61,213.99 L1272.97,212.73 L1274.34,211.49 L1275.71,210.25 L1277.1,209.03 L1278.49,207.81 L1279.9,206.61 L1281.31,205.42 L1282.73,204.24 L1284.16,203.06 L1285.59,201.9 L1287.04,200.75 L1288.49,199.61 L1289.96,198.48 L1291.43,197.36 L1292.91,196.24 L1294.39,195.14 L1295.89,194.05 L1297.39,192.97 L1298.9,191.9 L1300.42,190.85 L1301.94,189.8 L1303.48,188.76 L1305.02,187.73 L1306.57,186.71 L1308.12,185.7 L1309.68,184.71 L1311.25,183.72 L1312.83,182.74 L1314.41,181.77 L1316,180.82 L1317.6,179.87 L1319.21,178.93 L1320.82,178.01 L1322.43,177.09 L1324.06,176.19 L1325.69,175.29 L1327.32,174.4 L1328.97,173.53 L1330.62,172.66 L1332.27,171.81 L1333.93,170.96 L1335.6,170.13 L1337.27,169.31 L1338.95,168.49 L1340.63,167.69 L1342.32,166.89 L1344.02,166.11 L1345.72,165.34 L1347.42,164.57 L1349.13,163.82 L1350.85,163.08 L1352.57,162.34 L1354.3,161.62 L1356.03,160.91 L1357.76,160.21 L1359.51,159.51 L1361.25,158.83 L1363,158.16 L1364.76,157.5 L1366.51,156.84 L1368.28,156.2 L1370.04,155.57 L1371.82,154.95 L1373.59,154.34 L1375.37,153.74 L1377.16,153.14 L1378.94,152.56 L1380.73,151.99 L1382.53,151.43 L1384.33,150.88 L1386.13,150.34 L1387.93,149.81 L1389.74,149.29 L1391.56,148.77 L1393.37,148.27 L1395.19,147.78 L1397.01,147.3 L1398.83,146.83 L1400.66,146.37 L1402.49,145.92 L1404.32,145.48 L1406.16,145.04 L1408,144.62 L1409.84,144.21 L1411.69,143.8 L1413.54,143.4 L1415.39,143.01 L1417.25,142.63 L1419.1,142.25 L1420.96,141.88 L1422.83,141.52 L1424.69,141.16 L1426.56,140.81 L1428.43,140.46 L1430.3,140.12 L1432.17,139.79 L1434.05,139.46 L1435.92,139.13 L1437.8,138.81 L1439.68,138.49 L1441.56,138.17 L1443.44,137.86 L1445.33,137.55 L1447.21,137.24 L1449.1,136.93 L1450.98,136.63 L1452.87,136.33 L1454.76,136.02 L1456.65,135.72 L1458.54,135.42 L1460.43,135.12 L1462.32,134.82 L1464.21,134.52 L1466.1,134.22 L1467.99,133.91 L1469.88,133.61 L1471.77,133.3 L1473.66,132.99 L1475.55,132.68 L1477.44,132.37 L1479.32,132.05 L1481.21,131.73 L1483.1,131.4 L1484.98,131.08 L1486.87,130.74 L1488.75,130.4 L1490.63,130.06 L1492.52,129.71 L1494.4,129.36 L1496.27,129 L1498.15,128.63 L1500.02,128.26 L1501.9,127.88 L1503.77,127.49 L1505.64,127.09 L1507.51,126.69 L1509.37,126.28 L1511.23,125.86 L1513.09,125.43 L1514.95,124.99 L1516.81,124.54 L1518.66,124.08 L1520.51,123.61 L1522.35,123.13 L1524.2,122.63 L1526.04,122.13 L1527.87,121.62 L1529.71,121.09 L1531.54,120.55 L1533.36,120 L1535.19,119.43 L1537,118.85 L1538.82,118.26 L1540.63,117.65 L1542.44,117.03 L1544.24,116.4 L1546.04,115.75 L1547.83,115.08 L1549.62,114.4 L1551.4,113.7 L1553.18,112.98 L1554.96,112.25 L1556.73,111.5 L1558.49,110.73 L1560.25,109.95 L1562,109.14 L1563.75,108.32 L1565.49,107.48 L1567.22,106.62 L1568.95,105.74 L1570.67,104.83 L1572.39,103.91 L1574.1,102.97 L1575.8,102 L1577.49,101.01 L1579.17,100 L1580.85,98.97 L1582.52,97.91 L1584.18,96.84 L1585.83,95.73 L1587.47,94.61 L1589.11,93.45 L1590.73,92.28 L1592.34,91.07 L1593.95,89.85 L1595.54,88.59 L1597.13,87.31 L1598.68,86.03 L1592.42,78.49 L1590.92,79.73 L1589.44,80.93 L1587.94,82.1 L1586.44,83.25 L1584.93,84.38 L1583.41,85.48 L1581.88,86.56 L1580.33,87.62 L1578.79,88.65 L1577.23,89.67 L1575.66,90.66 L1574.08,91.63 L1572.5,92.58 L1570.91,93.51 L1569.3,94.42 L1567.69,95.31 L1566.08,96.18 L1564.45,97.03 L1562.82,97.87 L1561.18,98.68 L1559.53,99.48 L1557.87,100.26 L1556.21,101.02 L1554.54,101.77 L1552.86,102.5 L1551.18,103.21 L1549.49,103.91 L1547.79,104.59 L1546.09,105.26 L1544.38,105.91 L1542.66,106.55 L1540.94,107.17 L1539.21,107.78 L1537.48,108.37 L1535.74,108.96 L1534,109.53 L1532.25,110.08 L1530.49,110.63 L1528.73,111.16 L1526.97,111.68 L1525.2,112.19 L1523.42,112.69 L1521.64,113.17 L1519.86,113.65 L1518.07,114.12 L1516.27,114.57 L1514.47,115.02 L1512.67,115.46 L1510.86,115.88 L1509.05,116.3 L1507.23,116.71 L1505.41,117.12 L1503.59,117.51 L1501.76,117.9 L1499.93,118.28 L1498.09,118.65 L1496.25,119.02 L1494.41,119.38 L1492.56,119.73 L1490.72,120.08 L1488.86,120.42 L1487.01,120.76 L1485.15,121.09 L1483.29,121.42 L1481.42,121.75 L1479.56,122.07 L1477.69,122.39 L1475.82,122.7 L1473.94,123.01 L1472.07,123.32 L1470.19,123.63 L1468.31,123.93 L1466.43,124.24 L1464.55,124.54 L1462.66,124.84 L1460.77,125.14 L1458.89,125.44 L1457,125.74 L1455.11,126.05 L1453.21,126.35 L1451.32,126.65 L1449.43,126.95 L1447.53,127.26 L1445.64,127.57 L1443.74,127.88 L1441.84,128.19 L1439.94,128.51 L1438.05,128.82 L1436.15,129.15 L1434.25,129.47 L1432.35,129.8 L1430.45,130.14 L1428.56,130.48 L1426.66,130.83 L1424.76,131.18 L1422.86,131.53 L1420.97,131.9 L1419.07,132.27 L1417.18,132.64 L1415.28,133.03 L1413.39,133.42 L1411.5,133.82 L1409.61,134.22 L1407.72,134.64 L1405.83,135.07 L1403.94,135.5 L1402.06,135.94 L1400.17,136.4 L1398.29,136.86 L1396.41,137.34 L1394.53,137.82 L1392.66,138.31 L1390.79,138.82 L1388.92,139.34 L1387.06,139.86 L1385.2,140.4 L1383.34,140.94 L1381.48,141.5 L1379.63,142.07 L1377.78,142.65 L1375.94,143.24 L1374.1,143.83 L1372.26,144.44 L1370.43,145.06 L1368.6,145.69 L1366.77,146.33 L1364.95,146.98 L1363.13,147.65 L1361.32,148.32 L1359.51,149 L1357.71,149.69 L1355.91,150.4 L1354.12,151.11 L1352.32,151.84 L1350.54,152.57 L1348.76,153.32 L1346.98,154.07 L1345.21,154.84 L1343.45,155.62 L1341.69,156.4 L1339.93,157.2 L1338.18,158.01 L1336.44,158.83 L1334.7,159.66 L1332.97,160.5 L1331.24,161.35 L1329.52,162.22 L1327.8,163.09 L1326.09,163.97 L1324.39,164.87 L1322.69,165.77 L1321,166.69 L1319.31,167.61 L1317.63,168.55 L1315.96,169.5 L1314.29,170.45 L1312.63,171.42 L1310.98,172.4 L1309.33,173.39 L1307.7,174.39 L1306.06,175.41 L1304.44,176.43 L1302.82,177.46 L1301.21,178.51 L1299.6,179.56 L1298.01,180.63 L1296.42,181.7 L1294.84,182.79 L1293.27,183.89 L1291.7,185 L1290.14,186.12 L1288.59,187.25 L1287.05,188.39 L1285.51,189.54 L1283.99,190.7 L1282.47,191.88 L1280.96,193.06 L1279.46,194.26 L1277.97,195.46 L1276.48,196.68 L1275.01,197.91 L1273.54,199.15 L1272.08,200.4 L1270.64,201.66 L1269.2,202.93 L1267.77,204.22 L1266.34,205.51 L1264.93,206.81 L1263.53,208.13 L1262.14,209.46 L1260.75,210.8 L1259.38,212.14 L1258.01,213.5 L1256.66,214.87 L1255.32,216.26 L1253.98,217.65 L1252.66,219.05 L1251.34,220.46 L1250.04,221.89 L1248.74,223.32 L1247.46,224.77 L1246.19,226.22 L1244.93,227.68 L1243.67,229.15 L1242.43,230.64 L1241.2,232.13 L1239.98,233.63 L1238.76,235.14 L1237.56,236.66 L1236.37,238.18 L1235.19,239.72 L1234.02,241.26 L1232.86,242.81 L1231.71,244.37 L1230.57,245.94 L1229.44,247.52 L1228.32,249.1 L1227.21,250.7 L1226.11,252.3 L1225.02,253.9 L1223.94,255.52 L1222.87,257.14 L1221.81,258.77 L1220.76,260.4 L1219.72,262.04 L1218.69,263.69 L1217.68,265.35 L1216.67,267.01 L1215.67,268.67 L1214.68,270.35 L1213.71,272.03 L1212.74,273.71 L1211.78,275.4 L1210.83,277.1 L1209.9,278.8 L1208.97,280.51 L1208.05,282.22 L1207.15,283.93 L1206.25,285.66 L1205.37,287.38 L1204.49,289.11 L1203.63,290.85 L1202.77,292.59 L1201.93,294.33 L1201.09,296.08 L1200.27,297.83 L1199.45,299.59 L1198.65,301.35 L1197.85,303.11 L1197.07,304.87 L1196.3,306.64 L1195.53,308.42 L1194.78,310.19 L1194.04,311.97 L1193.3,313.75 L1192.58,315.53 L1191.87,317.32 L1191.16,319.11 L1190.47,320.9 L1189.79,322.7 L1189.11,324.49 L1188.45,326.29 L1187.79,328.1 L1187.14,329.9 L1186.51,331.71 L1185.88,333.52 L1185.26,335.33 L1184.65,337.15 L1184.05,338.96 L1183.46,340.78 L1182.87,342.61 L1182.3,344.43 L1181.73,346.26 L1181.17,348.08 L1180.63,349.92 L1180.08,351.75 L1179.55,353.58 L1179.03,355.42 L1178.51,357.26 L1178,359.1 L1177.5,360.94 L1177.01,362.79 L1176.52,364.64 L1176.04,366.48 L1175.57,368.33 L1175.11,370.19 L1174.65,372.04 L1174.2,373.9 L1173.76,375.76 L1173.33,377.61 L1172.9,379.48 L1172.48,381.34 L1172.07,383.2 L1171.66,385.07 L1171.26,386.94 L1170.87,388.8 L1170.48,390.68 L1170.1,392.55 L1169.73,394.42 L1169.36,396.29 L1169,398.17 L1168.64,400.05 L1168.3,401.93 L1167.95,403.81 L1167.61,405.69 L1167.28,407.57 L1166.96,409.45 L1166.64,411.34 L1166.32,413.22 L1166.01,415.11 L1165.71,417 L1165.41,418.89 L1165.12,420.78 L1164.83,422.67 L1164.54,424.56 L1164.26,426.45 L1163.99,428.34 L1163.72,430.24 L1163.46,432.13 L1163.2,434.03 L1162.94,435.92 L1162.69,437.82 L1162.45,439.72 L1162.2,441.62 L1161.97,443.52 L1161.73,445.42 L1161.5,447.32 L1161.28,449.22 L1161.05,451.12 L1160.83,453.02 L1160.62,454.92 L1160.41,456.82 L1160.2,458.73 L1160,460.63 L1159.8,462.53 L1159.6,464.44 L1159.4,466.34 L1159.21,468.24 L1159.02,470.15 L1158.84,472.05 L1158.66,473.96 L1158.48,475.86 L1158.3,477.77 L1158.13,479.67 L1157.95,481.58 L1157.78,483.48 L1157.62,485.39 L1157.45,487.29 L1157.29,489.2 L1157.13,491.1 L1156.97,493 L1156.81,494.91 L1156.66,496.81 L1156.51,498.72 L1156.35,500.62 L1156.21,502.52 L1156.06,504.42 L1155.91,506.33 L1155.77,508.23 L1155.62,510.13 L1155.48,512.03 L1155.34,513.93 L1155.2,515.83 L1155.06,517.73 L1154.92,519.63 L1154.78,521.53 L1154.64,523.42 L1154.51,525.32 L1154.37,527.21 L1154.23,529.11 L1154.1,531 L1153.96,532.9 L1153.83,534.79 L1153.69,536.68 L1153.56,538.57 L1153.42,540.46 L1153.29,542.35 L1153.15,544.24 L1153.02,546.13 L1152.88,548.01 L1152.75,549.9 L1152.61,551.78 L1152.47,553.66 L1152.34,555.54 L1152.2,557.42 L1152.06,559.3 L1151.92,561.18 L1151.78,563.05 L1151.63,564.93 L1151.49,566.8 L1151.35,568.67 L1151.2,570.55 L1151.05,572.41 L1150.9,574.28 L1150.75,576.15 L1150.6,578.01 L1150.45,579.88 L1150.29,581.74 L1150.13,583.6 Z" fill="#52309e"/>
<circle cx="1155.01" cy="584.01" r="4.9" fill="#52309e"/>
<circle cx="1595.55" cy="82.26" r="4.9" fill="#52309e"/>
<path d="M1590.18,81.77 L1590.07,83.58 L1589.96,85.39 L1589.85,87.19 L1589.74,89 L1589.63,90.8 L1589.51,92.6 L1589.39,94.4 L1589.27,96.2 L1589.15,98 L1589.03,99.8 L1588.91,101.59 L1588.78,103.39 L1588.65,105.18 L1588.52,106.98 L1588.39,108.77 L1588.26,110.56 L1588.12,112.35 L1587.99,114.14 L1587.85,115.93 L1587.71,117.72 L1587.56,119.51 L1587.42,121.3 L1587.27,123.08 L1587.12,124.87 L1586.96,126.65 L1586.81,128.44 L1586.65,130.22 L1586.49,132.01 L1586.32,133.79 L1586.16,135.57 L1585.99,137.35 L1585.82,139.14 L1585.64,140.92 L1585.46,142.7 L1585.28,144.48 L1585.1,146.26 L1584.91,148.04 L1584.72,149.82 L1584.53,151.6 L1584.33,153.38 L1584.13,155.16 L1583.93,156.94 L1583.73,158.73 L1583.52,160.51 L1583.3,162.29 L1583.09,164.07 L1582.87,165.85 L1582.64,167.63 L1582.42,169.41 L1582.18,171.19 L1581.95,172.97 L1581.71,174.75 L1581.47,176.54 L1581.22,178.32 L1580.97,180.1 L1580.72,181.88 L1580.46,183.67 L1580.2,185.45 L1579.93,187.24 L1579.66,189.02 L1579.38,190.81 L1579.1,192.6 L1578.82,194.38 L1578.53,196.17 L1578.24,197.96 L1577.94,199.74 L1577.64,201.53 L1577.33,203.32 L1577.02,205.1 L1576.7,206.89 L1576.38,208.67 L1576.05,210.46 L1575.72,212.24 L1575.38,214.03 L1575.04,215.81 L1574.69,217.59 L1574.34,219.37 L1573.98,221.15 L1573.61,222.93 L1573.24,224.71 L1572.86,226.48 L1572.48,228.25 L1572.09,230.03 L1571.69,231.8 L1571.29,233.57 L1570.88,235.33 L1570.47,237.1 L1570.04,238.86 L1569.62,240.62 L1569.18,242.38 L1568.74,244.14 L1568.29,245.89 L1567.84,247.64 L1567.38,249.39 L1566.91,251.14 L1566.43,252.88 L1565.95,254.62 L1565.46,256.36 L1564.96,258.09 L1564.45,259.82 L1563.94,261.55 L1563.42,263.27 L1562.89,265 L1562.36,266.71 L1561.81,268.43 L1561.26,270.14 L1560.7,271.84 L1560.13,273.54 L1559.56,275.24 L1558.97,276.94 L1558.38,278.63 L1557.78,280.31 L1557.17,281.99 L1556.55,283.67 L1555.92,285.34 L1555.29,287.01 L1554.64,288.67 L1553.99,290.33 L1553.33,291.98 L1552.66,293.63 L1551.98,295.27 L1551.29,296.91 L1550.59,298.54 L1549.88,300.17 L1549.16,301.79 L1548.43,303.4 L1547.7,305.01 L1546.95,306.62 L1546.19,308.21 L1545.43,309.81 L1544.65,311.39 L1543.86,312.97 L1543.07,314.55 L1542.26,316.11 L1541.44,317.68 L1540.62,319.23 L1539.78,320.78 L1538.93,322.32 L1538.07,323.85 L1537.2,325.38 L1536.32,326.9 L1535.43,328.42 L1534.53,329.93 L1533.62,331.43 L1532.69,332.92 L1531.76,334.4 L1530.81,335.88 L1529.85,337.35 L1528.89,338.81 L1527.91,340.27 L1526.91,341.72 L1525.91,343.16 L1524.9,344.59 L1523.87,346.02 L1522.83,347.44 L1521.78,348.85 L1520.73,350.26 L1519.66,351.65 L1518.58,353.04 L1517.49,354.43 L1516.38,355.8 L1515.27,357.17 L1514.15,358.53 L1513.02,359.88 L1511.87,361.22 L1510.72,362.56 L1509.56,363.89 L1508.39,365.21 L1507.2,366.52 L1506.01,367.82 L1504.81,369.12 L1503.6,370.41 L1502.38,371.69 L1501.15,372.96 L1499.91,374.23 L1498.66,375.49 L1497.41,376.73 L1496.14,377.97 L1494.87,379.21 L1493.58,380.43 L1492.29,381.65 L1490.99,382.85 L1489.68,384.05 L1488.36,385.24 L1487.04,386.43 L1485.7,387.6 L1484.36,388.77 L1483.01,389.92 L1481.65,391.07 L1480.29,392.21 L1478.91,393.34 L1477.53,394.46 L1476.14,395.58 L1474.75,396.68 L1473.34,397.78 L1471.93,398.87 L1470.51,399.95 L1469.09,401.02 L1467.65,402.09 L1466.22,403.15 L1464.77,404.2 L1463.32,405.25 L1461.86,406.28 L1460.39,407.32 L1458.92,408.34 L1457.45,409.36 L1455.96,410.37 L1454.48,411.38 L1452.98,412.38 L1451.49,413.37 L1449.98,414.36 L1448.48,415.35 L1446.97,416.33 L1445.45,417.3 L1443.93,418.27 L1442.41,419.24 L1440.88,420.2 L1439.35,421.15 L1437.81,422.1 L1436.28,423.05 L1434.74,424 L1433.19,424.94 L1431.65,425.88 L1430.1,426.81 L1428.55,427.74 L1427,428.67 L1425.44,429.59 L1423.89,430.52 L1422.33,431.43 L1420.77,432.35 L1419.21,433.26 L1417.65,434.17 L1416.08,435.08 L1414.52,435.99 L1412.95,436.89 L1411.38,437.79 L1409.81,438.69 L1408.24,439.58 L1406.67,440.48 L1405.09,441.37 L1403.52,442.26 L1401.94,443.15 L1400.36,444.03 L1398.78,444.92 L1397.2,445.8 L1395.62,446.68 L1394.04,447.56 L1392.46,448.44 L1390.87,449.32 L1389.29,450.19 L1387.7,451.07 L1386.12,451.94 L1384.53,452.82 L1382.94,453.69 L1381.36,454.56 L1379.77,455.43 L1378.18,456.3 L1376.59,457.17 L1375,458.04 L1373.41,458.91 L1371.82,459.78 L1370.23,460.65 L1368.64,461.51 L1367.05,462.38 L1365.46,463.25 L1363.86,464.12 L1362.27,464.99 L1360.68,465.86 L1359.09,466.73 L1357.5,467.6 L1355.91,468.47 L1354.32,469.34 L1352.73,470.21 L1351.14,471.09 L1349.55,471.96 L1347.96,472.84 L1346.37,473.72 L1344.78,474.59 L1343.19,475.47 L1341.61,476.35 L1340.02,477.23 L1338.43,478.12 L1336.85,479 L1335.26,479.89 L1333.68,480.78 L1332.1,481.67 L1330.51,482.56 L1328.93,483.46 L1327.35,484.36 L1325.77,485.25 L1324.2,486.16 L1322.62,487.06 L1321.05,487.96 L1319.47,488.87 L1317.9,489.78 L1316.33,490.69 L1314.76,491.6 L1313.19,492.51 L1311.63,493.42 L1310.06,494.34 L1308.49,495.26 L1306.93,496.17 L1305.37,497.09 L1303.8,498.01 L1302.24,498.93 L1300.68,499.85 L1299.12,500.77 L1297.56,501.7 L1296,502.62 L1294.45,503.54 L1292.89,504.47 L1291.33,505.39 L1289.77,506.32 L1288.22,507.24 L1286.66,508.17 L1285.11,509.09 L1283.55,510.02 L1282,510.94 L1280.44,511.87 L1278.89,512.79 L1277.33,513.71 L1275.78,514.64 L1274.23,515.56 L1272.67,516.48 L1271.12,517.41 L1269.56,518.33 L1268.01,519.25 L1266.45,520.17 L1264.9,521.09 L1263.34,522.01 L1261.79,522.92 L1260.23,523.84 L1258.68,524.75 L1257.12,525.67 L1255.56,526.58 L1254.01,527.49 L1252.45,528.4 L1250.89,529.3 L1249.33,530.21 L1247.77,531.11 L1246.21,532.02 L1244.65,532.92 L1243.09,533.81 L1241.52,534.71 L1239.96,535.61 L1238.39,536.5 L1236.83,537.39 L1235.26,538.27 L1233.69,539.16 L1232.12,540.04 L1230.55,540.92 L1228.98,541.8 L1227.41,542.67 L1225.83,543.55 L1224.26,544.41 L1222.68,545.28 L1221.1,546.14 L1219.52,547 L1217.94,547.86 L1216.36,548.72 L1214.77,549.57 L1213.19,550.41 L1211.6,551.26 L1210.01,552.1 L1208.42,552.93 L1206.83,553.77 L1205.23,554.6 L1203.64,555.42 L1202.04,556.24 L1200.44,557.06 L1198.83,557.87 L1197.23,558.68 L1195.62,559.49 L1194.01,560.29 L1192.4,561.09 L1190.78,561.88 L1189.17,562.68 L1187.55,563.46 L1185.93,564.24 L1184.31,565.02 L1182.68,565.8 L1181.05,566.57 L1179.43,567.33 L1177.79,568.09 L1176.16,568.85 L1174.52,569.61 L1172.88,570.36 L1171.24,571.1 L1169.6,571.84 L1167.95,572.58 L1166.31,573.31 L1164.66,574.04 L1163,574.76 L1161.35,575.48 L1159.69,576.2 L1158.03,576.91 L1156.37,577.61 L1154.7,578.32 L1153.03,579.02 L1156.81,588.06 L1158.5,587.35 L1160.19,586.64 L1161.88,585.92 L1163.56,585.2 L1165.24,584.47 L1166.92,583.74 L1168.6,583.01 L1170.27,582.27 L1171.95,581.53 L1173.62,580.78 L1175.28,580.03 L1176.95,579.27 L1178.61,578.51 L1180.27,577.75 L1181.93,576.98 L1183.58,576.21 L1185.24,575.43 L1186.89,574.65 L1188.53,573.86 L1190.18,573.07 L1191.82,572.28 L1193.46,571.48 L1195.1,570.68 L1196.74,569.88 L1198.37,569.07 L1200,568.26 L1201.63,567.44 L1203.26,566.62 L1204.88,565.79 L1206.5,564.96 L1208.12,564.13 L1209.74,563.3 L1211.36,562.46 L1212.97,561.61 L1214.58,560.77 L1216.19,559.92 L1217.8,559.06 L1219.4,558.21 L1221,557.35 L1222.6,556.48 L1224.2,555.62 L1225.8,554.75 L1227.39,553.88 L1228.98,553 L1230.57,552.12 L1232.16,551.24 L1233.75,550.36 L1235.34,549.48 L1236.92,548.59 L1238.5,547.7 L1240.08,546.81 L1241.66,545.91 L1243.24,545.01 L1244.82,544.12 L1246.39,543.22 L1247.97,542.31 L1249.54,541.41 L1251.11,540.5 L1252.68,539.6 L1254.25,538.69 L1255.82,537.78 L1257.38,536.86 L1258.95,535.95 L1260.51,535.04 L1262.08,534.12 L1263.64,533.2 L1265.2,532.29 L1266.76,531.37 L1268.32,530.45 L1269.88,529.53 L1271.44,528.6 L1273,527.68 L1274.56,526.76 L1276.12,525.84 L1277.67,524.91 L1279.23,523.99 L1280.79,523.06 L1282.34,522.14 L1283.9,521.21 L1285.45,520.29 L1287.01,519.36 L1288.56,518.44 L1290.12,517.51 L1291.67,516.59 L1293.23,515.67 L1294.78,514.74 L1296.34,513.82 L1297.89,512.9 L1299.44,511.97 L1301,511.05 L1302.55,510.13 L1304.11,509.21 L1305.67,508.29 L1307.22,507.37 L1308.78,506.46 L1310.33,505.54 L1311.89,504.63 L1313.45,503.71 L1315.01,502.8 L1316.57,501.89 L1318.13,500.98 L1319.69,500.07 L1321.25,499.17 L1322.81,498.26 L1324.37,497.36 L1325.93,496.46 L1327.5,495.56 L1329.06,494.66 L1330.63,493.77 L1332.2,492.87 L1333.77,491.98 L1335.34,491.09 L1336.91,490.21 L1338.48,489.32 L1340.05,488.44 L1341.63,487.56 L1343.21,486.68 L1344.78,485.8 L1346.36,484.92 L1347.94,484.04 L1349.52,483.17 L1351.11,482.29 L1352.69,481.42 L1354.27,480.55 L1355.86,479.68 L1357.44,478.81 L1359.03,477.94 L1360.62,477.07 L1362.21,476.2 L1363.79,475.33 L1365.38,474.46 L1366.97,473.59 L1368.56,472.72 L1370.15,471.85 L1371.74,470.98 L1373.33,470.12 L1374.93,469.25 L1376.52,468.38 L1378.11,467.51 L1379.7,466.64 L1381.29,465.77 L1382.89,464.9 L1384.48,464.02 L1386.07,463.15 L1387.66,462.28 L1389.25,461.4 L1390.85,460.53 L1392.44,459.65 L1394.03,458.77 L1395.62,457.89 L1397.21,457.01 L1398.8,456.13 L1400.39,455.24 L1401.98,454.36 L1403.57,453.47 L1405.16,452.58 L1406.74,451.69 L1408.33,450.79 L1409.92,449.9 L1411.5,449 L1413.09,448.1 L1414.67,447.2 L1416.25,446.29 L1417.83,445.38 L1419.42,444.47 L1420.99,443.56 L1422.57,442.65 L1424.15,441.73 L1425.73,440.8 L1427.3,439.88 L1428.87,438.95 L1430.45,438.02 L1432.02,437.09 L1433.59,436.15 L1435.15,435.21 L1436.72,434.26 L1438.29,433.31 L1439.85,432.36 L1441.41,431.4 L1442.97,430.44 L1444.53,429.47 L1446.08,428.5 L1447.64,427.52 L1449.19,426.54 L1450.73,425.55 L1452.28,424.56 L1453.82,423.56 L1455.36,422.56 L1456.89,421.55 L1458.42,420.53 L1459.95,419.51 L1461.47,418.48 L1462.99,417.44 L1464.51,416.39 L1466.01,415.34 L1467.52,414.28 L1469.02,413.22 L1470.51,412.14 L1472,411.06 L1473.48,409.97 L1474.96,408.87 L1476.43,407.76 L1477.9,406.65 L1479.35,405.52 L1480.81,404.39 L1482.25,403.24 L1483.69,402.09 L1485.12,400.93 L1486.54,399.75 L1487.96,398.57 L1489.36,397.38 L1490.76,396.19 L1492.15,394.98 L1493.53,393.76 L1494.91,392.54 L1496.27,391.3 L1497.63,390.06 L1498.98,388.81 L1500.32,387.55 L1501.65,386.28 L1502.97,385 L1504.29,383.71 L1505.59,382.41 L1506.89,381.11 L1508.17,379.8 L1509.45,378.48 L1510.72,377.14 L1511.98,375.81 L1513.23,374.46 L1514.46,373.1 L1515.69,371.74 L1516.91,370.37 L1518.12,368.99 L1519.32,367.6 L1520.51,366.2 L1521.68,364.79 L1522.85,363.38 L1524.01,361.96 L1525.16,360.53 L1526.29,359.09 L1527.42,357.64 L1528.53,356.19 L1529.63,354.72 L1530.72,353.25 L1531.8,351.77 L1532.87,350.28 L1533.93,348.79 L1534.98,347.29 L1536.01,345.78 L1537.04,344.26 L1538.05,342.73 L1539.05,341.2 L1540.03,339.66 L1541.01,338.11 L1541.97,336.55 L1542.92,334.99 L1543.86,333.42 L1544.79,331.84 L1545.7,330.26 L1546.61,328.67 L1547.5,327.07 L1548.38,325.47 L1549.25,323.86 L1550.11,322.25 L1550.96,320.63 L1551.8,319 L1552.62,317.37 L1553.44,315.73 L1554.24,314.09 L1555.04,312.44 L1555.82,310.78 L1556.59,309.12 L1557.36,307.45 L1558.11,305.78 L1558.85,304.11 L1559.58,302.43 L1560.31,300.74 L1561.02,299.05 L1561.72,297.35 L1562.41,295.65 L1563.1,293.95 L1563.77,292.24 L1564.44,290.52 L1565.09,288.81 L1565.74,287.08 L1566.37,285.36 L1567,283.63 L1567.62,281.89 L1568.23,280.16 L1568.83,278.41 L1569.42,276.67 L1570,274.92 L1570.58,273.17 L1571.15,271.41 L1571.7,269.66 L1572.25,267.89 L1572.8,266.13 L1573.33,264.36 L1573.85,262.59 L1574.37,260.82 L1574.88,259.04 L1575.38,257.26 L1575.88,255.48 L1576.37,253.7 L1576.85,251.91 L1577.32,250.13 L1577.78,248.34 L1578.24,246.54 L1578.69,244.75 L1579.14,242.96 L1579.57,241.16 L1580,239.36 L1580.42,237.56 L1580.84,235.76 L1581.25,233.95 L1581.65,232.15 L1582.05,230.34 L1582.44,228.54 L1582.83,226.73 L1583.21,224.92 L1583.58,223.11 L1583.94,221.3 L1584.3,219.49 L1584.66,217.68 L1585.01,215.87 L1585.35,214.05 L1585.69,212.24 L1586.02,210.43 L1586.35,208.62 L1586.67,206.8 L1586.99,204.99 L1587.3,203.18 L1587.61,201.37 L1587.91,199.55 L1588.21,197.74 L1588.5,195.93 L1588.79,194.12 L1589.07,192.31 L1589.35,190.5 L1589.62,188.7 L1589.89,186.89 L1590.16,185.08 L1590.42,183.28 L1590.68,181.47 L1590.93,179.67 L1591.18,177.87 L1591.42,176.06 L1591.66,174.26 L1591.9,172.46 L1592.14,170.66 L1592.37,168.86 L1592.59,167.06 L1592.81,165.26 L1593.03,163.46 L1593.25,161.66 L1593.46,159.86 L1593.67,158.06 L1593.87,156.26 L1594.07,154.47 L1594.27,152.67 L1594.47,150.87 L1594.66,149.07 L1594.85,147.28 L1595.03,145.48 L1595.21,143.68 L1595.39,141.88 L1595.57,140.09 L1595.74,138.29 L1595.91,136.49 L1596.08,134.69 L1596.25,132.89 L1596.41,131.1 L1596.57,129.3 L1596.73,127.5 L1596.88,125.7 L1597.03,123.9 L1597.18,122.1 L1597.33,120.3 L1597.47,118.5 L1597.62,116.7 L1597.76,114.9 L1597.9,113.1 L1598.03,111.29 L1598.17,109.49 L1598.3,107.69 L1598.43,105.88 L1598.56,104.08 L1598.68,102.27 L1598.81,100.47 L1598.93,98.66 L1599.05,96.85 L1599.17,95.04 L1599.29,93.23 L1599.41,91.42 L1599.52,89.61 L1599.63,87.8 L1599.75,85.99 L1599.86,84.17 L1599.97,82.36 Z" fill="#52309e"/>
<circle cx="1595.07" cy="82.06" r="4.9" fill="#52309e"/>
<circle cx="1154.92" cy="583.54" r="4.9" fill="#52309e"/>
<text x="1063" y="43" font-size="28.7" text-anchor="end" font-weight="bold">6 × 10<tspan font-size="20" dy="-13">−3</tspan></text>
<text x="1063" y="136.5" font-size="28.7" text-anchor="end" font-weight="bold">4 × 10<tspan font-size="20" dy="-13">−3</tspan></text>
<text x="1063" y="230" font-size="28.7" text-anchor="end" font-weight="bold">2 × 10<tspan font-size="20" dy="-13">−3</tspan></text>
<text x="1074.5" y="324.5" font-size="28" text-anchor="end" fill="#000" font-weight="bold" >0</text>
<text x="1061.5" y="418" font-size="28.7" text-anchor="end" font-weight="bold">−2 × 10<tspan font-size="20" dy="-13">−3</tspan></text>
<text x="1061.5" y="511.5" font-size="28.7" text-anchor="end" font-weight="bold">−4 × 10<tspan font-size="20" dy="-13">−3</tspan></text>
<text x="1061.5" y="604.3" font-size="28.7" text-anchor="end" font-weight="bold">−6 × 10<tspan font-size="20" dy="-13">−3</tspan></text>
<text x="1093.2" y="645.6" font-size="29.5" text-anchor="middle" fill="#000" font-weight="bold" >−0.8</text>
<text x="1218.1" y="645.6" font-size="29.5" text-anchor="middle" fill="#000" font-weight="bold" >−0.4</text>
<text x="1343.5" y="645.6" font-size="29.5" text-anchor="middle" fill="#000" font-weight="bold" >0</text>
<text x="1469.5" y="645.6" font-size="29.5" text-anchor="middle" fill="#000" font-weight="bold" >0.4</text>
<text x="1594.8" y="645.6" font-size="29.5" text-anchor="middle" fill="#000" font-weight="bold" >0.8</text>
<text x="1421.2" y="691" font-size="29.1" text-anchor="end" fill="#000" font-weight="bold" >Potential vs. Ag</text>
<text x="1433.2" y="691" font-size="29.1" text-anchor="start" fill="#000" font-weight="bold" >AgCl (V)</text>
<line x1="1426.2" y1="662.8" x2="1426.2" y2="693.4" stroke="#000" stroke-width="2"/>
<text x="890" y="320.05" font-size="29.1" text-anchor="middle" font-weight="bold" transform="rotate(-90 890 320.05)">Current (A)</text>
<text x="1150" y="96.2" font-size="20.85" fill="#52309e" font-weight="bold">CSC<tspan font-size="12" dy="8.5">total</tspan><tspan dy="-8.5"> = 202 <tspan font-weight="normal">±</tspan> 13 mC/cm<tspan font-size="12.5" dy="-8.5">2</tspan></tspan></text>
<text x="1285" y="294.8" font-size="25" text-anchor="start" fill="#52309e" font-weight="bold" >Restructured Ti</text>
<text x="1306.9" y="328.8" font-size="25" fill="#52309e" font-weight="bold">(89 MJ/cm<tspan font-weight="normal" font-size="15" dy="-10">2</tspan><tspan dy="10">)</tspan></text>
<rect x="252.6" y="798" width="559.5" height="559.5" fill="none" stroke="#343c9c" stroke-width="1.7"/>
<path d="M376.93,1357.5v-10.3M376.93,798v10.3M501.26,1357.5v-10.3M501.26,798v10.3M625.59,1357.5v-10.3M625.59,798v10.3M749.92,1357.5v-10.3M749.92,798v10.3M252.6,937.88h10.3M812.1,937.88h-10.3M252.6,1077.75h10.3M812.1,1077.75h-10.3M252.6,1217.62h10.3M812.1,1217.62h-10.3" stroke="#343c9c" stroke-width="1.7" fill="none"/>
<path d="M313.78,1235.23 L313.93,1233.83 L314.07,1232.42 L314.22,1231.01 L314.36,1229.6 L314.51,1228.18 L314.66,1226.75 L314.81,1225.33 L314.96,1223.89 L315.12,1222.46 L315.27,1221.01 L315.43,1219.57 L315.59,1218.12 L315.75,1216.67 L315.91,1215.21 L316.08,1213.76 L316.24,1212.29 L316.41,1210.83 L316.58,1209.36 L316.76,1207.89 L316.94,1206.42 L317.12,1204.94 L317.3,1203.46 L317.48,1201.98 L317.67,1200.5 L317.86,1199.01 L318.06,1197.53 L318.26,1196.04 L318.46,1194.55 L318.66,1193.06 L318.87,1191.56 L319.08,1190.07 L319.3,1188.57 L319.52,1187.07 L319.74,1185.57 L319.97,1184.07 L320.2,1182.57 L320.43,1181.07 L320.67,1179.57 L320.92,1178.07 L321.17,1176.56 L321.42,1175.06 L321.68,1173.56 L321.94,1172.05 L322.21,1170.55 L322.48,1169.05 L322.76,1167.55 L323.04,1166.04 L323.33,1164.54 L323.62,1163.04 L323.92,1161.54 L324.23,1160.04 L324.54,1158.55 L324.85,1157.05 L325.17,1155.55 L325.5,1154.06 L325.84,1152.57 L326.17,1151.08 L326.52,1149.59 L326.87,1148.1 L327.23,1146.62 L327.59,1145.13 L327.97,1143.65 L328.34,1142.18 L328.73,1140.7 L329.12,1139.23 L329.52,1137.76 L329.92,1136.29 L330.34,1134.83 L330.75,1133.36 L331.18,1131.91 L331.62,1130.45 L332.06,1129 L332.51,1127.55 L332.96,1126.11 L333.43,1124.67 L333.9,1123.23 L334.38,1121.8 L334.87,1120.37 L335.37,1118.95 L335.87,1117.53 L336.39,1116.11 L336.91,1114.7 L337.44,1113.3 L337.98,1111.9 L338.52,1110.5 L339.08,1109.11 L339.65,1107.73 L340.22,1106.35 L340.8,1104.97 L341.4,1103.6 L342,1102.24 L342.61,1100.88 L343.23,1099.53 L343.86,1098.19 L344.5,1096.85 L345.15,1095.51 L345.81,1094.19 L346.48,1092.87 L347.16,1091.55 L347.85,1090.25 L348.55,1088.95 L349.26,1087.66 L349.98,1086.37 L350.71,1085.09 L351.45,1083.82 L352.2,1082.56 L352.96,1081.3 L353.74,1080.05 L354.52,1078.81 L355.32,1077.58 L356.12,1076.35 L356.94,1075.14 L357.76,1073.93 L358.6,1072.72 L359.44,1071.53 L360.3,1070.34 L361.16,1069.16 L362.04,1067.99 L362.92,1066.82 L363.81,1065.66 L364.72,1064.51 L365.63,1063.37 L366.55,1062.24 L367.49,1061.11 L368.43,1059.99 L369.38,1058.88 L370.34,1057.77 L371.3,1056.67 L372.28,1055.58 L373.27,1054.5 L374.26,1053.42 L375.26,1052.36 L376.27,1051.3 L377.29,1050.24 L378.32,1049.2 L379.36,1048.16 L380.4,1047.13 L381.45,1046.11 L382.51,1045.09 L383.58,1044.08 L384.66,1043.08 L385.74,1042.09 L386.83,1041.1 L387.93,1040.13 L389.03,1039.16 L390.15,1038.19 L391.27,1037.24 L392.4,1036.29 L393.53,1035.35 L394.67,1034.41 L395.82,1033.49 L396.98,1032.57 L398.14,1031.66 L399.31,1030.75 L400.49,1029.86 L401.67,1028.97 L402.86,1028.08 L404.05,1027.21 L405.25,1026.34 L406.46,1025.48 L407.67,1024.63 L408.89,1023.79 L410.12,1022.95 L411.35,1022.12 L412.59,1021.3 L413.83,1020.48 L415.08,1019.67 L416.33,1018.87 L417.59,1018.08 L418.86,1017.29 L420.13,1016.51 L421.4,1015.74 L422.68,1014.98 L423.96,1014.22 L425.25,1013.47 L426.55,1012.73 L427.85,1012 L429.15,1011.27 L430.46,1010.55 L431.77,1009.84 L433.09,1009.13 L434.41,1008.43 L435.74,1007.74 L437.07,1007.06 L438.4,1006.38 L439.74,1005.71 L441.08,1005.05 L442.42,1004.4 L443.77,1003.75 L445.13,1003.11 L446.48,1002.48 L447.84,1001.85 L449.2,1001.24 L450.57,1000.63 L451.94,1000.02 L453.31,999.43 L454.69,998.84 L456.06,998.26 L457.44,997.68 L458.83,997.12 L460.21,996.56 L461.6,996 L462.99,995.46 L464.39,994.92 L465.79,994.39 L467.19,993.86 L468.59,993.35 L469.99,992.83 L471.4,992.33 L472.81,991.83 L474.22,991.34 L475.63,990.86 L477.05,990.38 L478.47,989.91 L479.89,989.44 L481.31,988.98 L482.73,988.53 L484.16,988.08 L485.59,987.64 L487.02,987.21 L488.45,986.78 L489.89,986.36 L491.33,985.94 L492.76,985.53 L494.21,985.12 L495.65,984.72 L497.09,984.33 L498.54,983.94 L499.99,983.56 L501.44,983.18 L502.89,982.81 L504.34,982.44 L505.8,982.08 L507.25,981.72 L508.71,981.37 L510.17,981.03 L511.63,980.68 L513.1,980.35 L514.56,980.02 L516.02,979.69 L517.49,979.37 L518.96,979.05 L520.43,978.74 L521.9,978.43 L523.37,978.12 L524.85,977.82 L526.32,977.53 L527.8,977.24 L529.27,976.95 L530.75,976.67 L532.23,976.39 L533.71,976.12 L535.19,975.84 L536.67,975.58 L538.15,975.32 L539.64,975.06 L541.12,974.8 L542.61,974.55 L544.09,974.3 L545.58,974.06 L547.07,973.82 L548.55,973.58 L550.04,973.35 L551.53,973.12 L553.02,972.89 L554.51,972.66 L556,972.44 L557.5,972.23 L558.99,972.01 L560.48,971.8 L561.97,971.59 L563.47,971.38 L564.96,971.18 L566.45,970.98 L567.95,970.78 L569.44,970.58 L570.94,970.39 L572.43,970.2 L573.93,970.01 L575.42,969.82 L576.92,969.64 L578.41,969.46 L579.91,969.28 L581.4,969.1 L582.9,968.93 L584.39,968.75 L585.89,968.58 L587.38,968.41 L588.88,968.24 L590.37,968.08 L591.86,967.91 L593.36,967.75 L594.85,967.59 L596.34,967.43 L597.84,967.27 L599.33,967.11 L600.82,966.95 L602.31,966.8 L603.8,966.64 L605.29,966.49 L606.78,966.34 L608.27,966.19 L609.76,966.04 L611.25,965.89 L612.73,965.74 L614.22,965.59 L615.71,965.44 L617.19,965.29 L618.68,965.14 L620.16,964.99 L621.64,964.84 L623.13,964.69 L624.61,964.54 L626.09,964.39 L627.57,964.24 L629.05,964.09 L630.53,963.94 L632.01,963.79 L633.49,963.63 L634.97,963.47 L636.44,963.32 L637.92,963.16 L639.4,963 L640.87,962.84 L642.35,962.67 L643.82,962.51 L645.29,962.34 L646.77,962.17 L648.24,962 L649.71,961.82 L651.18,961.64 L652.65,961.46 L654.12,961.28 L655.59,961.1 L657.05,960.91 L658.52,960.72 L659.98,960.52 L661.45,960.32 L662.91,960.12 L664.38,959.92 L665.84,959.71 L667.3,959.49 L668.76,959.28 L670.22,959.06 L671.68,958.83 L673.14,958.6 L674.6,958.37 L676.06,958.13 L677.51,957.89 L678.97,957.64 L680.42,957.39 L681.88,957.13 L683.33,956.87 L684.78,956.61 L686.23,956.33 L687.69,956.06 L689.14,955.77 L690.58,955.48 L692.03,955.19 L693.48,954.89 L694.93,954.58 L696.37,954.27 L697.81,953.95 L699.26,953.63 L700.7,953.29 L702.14,952.96 L703.58,952.61 L705.02,952.26 L706.46,951.9 L707.9,951.54 L709.34,951.16 L710.77,950.78 L712.21,950.4 L713.64,950 L715.08,949.6 L716.51,949.19 L717.94,948.77 L719.37,948.35 L720.8,947.91 L722.23,947.47 L723.66,947.02 L725.08,946.56 L726.51,946.09 L727.93,945.62 L729.36,945.13 L730.78,944.64 L732.2,944.14 L733.62,943.63 L735.04,943.1 L736.46,942.57 L737.87,942.04 L739.29,941.49 L740.71,940.93 L742.12,940.36 L743.53,939.78 L744.95,939.19 L746.36,938.59 L747.77,937.98 L749.18,937.36" fill="none" stroke="#52309e" stroke-width="5.6" stroke-linecap="round" stroke-linejoin="round"/>
<path d="M748.45,936.97 L748.47,938.35 L748.48,939.74 L748.49,941.13 L748.48,942.52 L748.47,943.92 L748.44,945.32 L748.41,946.72 L748.37,948.13 L748.32,949.54 L748.26,950.95 L748.19,952.37 L748.12,953.79 L748.03,955.21 L747.94,956.63 L747.83,958.05 L747.72,959.48 L747.6,960.91 L747.47,962.34 L747.33,963.77 L747.18,965.2 L747.03,966.63 L746.86,968.07 L746.69,969.5 L746.5,970.94 L746.31,972.38 L746.11,973.81 L745.9,975.25 L745.68,976.69 L745.45,978.13 L745.21,979.57 L744.97,981 L744.71,982.44 L744.45,983.88 L744.17,985.32 L743.89,986.75 L743.6,988.19 L743.3,989.62 L742.99,991.05 L742.67,992.49 L742.34,993.92 L742.01,995.35 L741.66,996.77 L741.31,998.2 L740.94,999.62 L740.57,1001.04 L740.19,1002.46 L739.8,1003.88 L739.39,1005.3 L738.98,1006.71 L738.57,1008.12 L738.14,1009.52 L737.7,1010.93 L737.25,1012.33 L736.8,1013.73 L736.33,1015.12 L735.86,1016.51 L735.38,1017.9 L734.88,1019.28 L734.38,1020.66 L733.87,1022.03 L733.35,1023.4 L732.82,1024.77 L732.28,1026.13 L731.74,1027.49 L731.18,1028.84 L730.61,1030.18 L730.04,1031.53 L729.45,1032.86 L728.86,1034.19 L728.26,1035.52 L727.64,1036.84 L727.02,1038.16 L726.39,1039.46 L725.75,1040.77 L725.1,1042.06 L724.44,1043.35 L723.77,1044.64 L723.09,1045.92 L722.41,1047.19 L721.71,1048.45 L721,1049.71 L720.29,1050.96 L719.56,1052.2 L718.83,1053.44 L718.09,1054.66 L717.33,1055.88 L716.57,1057.1 L715.8,1058.3 L715.02,1059.5 L714.23,1060.69 L713.43,1061.87 L712.62,1063.04 L711.8,1064.2 L710.97,1065.36 L710.13,1066.51 L709.29,1067.64 L708.43,1068.78 L707.57,1069.9 L706.7,1071.02 L705.81,1072.12 L704.93,1073.22 L704.03,1074.32 L703.12,1075.4 L702.2,1076.48 L701.28,1077.55 L700.35,1078.61 L699.41,1079.66 L698.46,1080.71 L697.5,1081.74 L696.54,1082.77 L695.57,1083.8 L694.59,1084.81 L693.6,1085.82 L692.61,1086.82 L691.6,1087.81 L690.59,1088.8 L689.58,1089.78 L688.55,1090.75 L687.52,1091.71 L686.48,1092.67 L685.43,1093.61 L684.38,1094.56 L683.32,1095.49 L682.25,1096.42 L681.17,1097.34 L680.09,1098.25 L679,1099.15 L677.91,1100.05 L676.81,1100.94 L675.7,1101.83 L674.59,1102.7 L673.47,1103.58 L672.34,1104.44 L671.21,1105.29 L670.07,1106.14 L668.92,1106.99 L667.77,1107.82 L666.61,1108.65 L665.45,1109.47 L664.28,1110.29 L663.11,1111.1 L661.93,1111.9 L660.75,1112.7 L659.55,1113.49 L658.36,1114.27 L657.16,1115.04 L655.95,1115.81 L654.74,1116.58 L653.52,1117.33 L652.3,1118.08 L651.08,1118.83 L649.84,1119.56 L648.61,1120.29 L647.37,1121.02 L646.12,1121.74 L644.87,1122.45 L643.62,1123.16 L642.36,1123.85 L641.1,1124.55 L639.83,1125.24 L638.56,1125.92 L637.28,1126.59 L636,1127.26 L634.72,1127.92 L633.43,1128.58 L632.14,1129.23 L630.85,1129.88 L629.55,1130.52 L628.25,1131.15 L626.94,1131.78 L625.63,1132.4 L624.32,1133.01 L623,1133.62 L621.68,1134.23 L620.36,1134.83 L619.04,1135.42 L617.71,1136.01 L616.38,1136.59 L615.05,1137.17 L613.71,1137.74 L612.37,1138.3 L611.03,1138.86 L609.68,1139.42 L608.34,1139.96 L606.99,1140.51 L605.64,1141.05 L604.28,1141.58 L602.93,1142.11 L601.57,1142.63 L600.21,1143.14 L598.85,1143.66 L597.49,1144.16 L596.12,1144.66 L594.75,1145.16 L593.39,1145.65 L592.02,1146.14 L590.64,1146.62 L589.27,1147.09 L587.9,1147.56 L586.52,1148.03 L585.14,1148.49 L583.77,1148.95 L582.39,1149.4 L581.01,1149.84 L579.63,1150.29 L578.25,1150.72 L576.86,1151.16 L575.48,1151.58 L574.1,1152.01 L572.71,1152.43 L571.33,1152.85 L569.94,1153.26 L568.55,1153.67 L567.17,1154.08 L565.78,1154.48 L564.39,1154.88 L563,1155.28 L561.61,1155.68 L560.22,1156.07 L558.83,1156.46 L557.44,1156.85 L556.05,1157.24 L554.66,1157.62 L553.27,1158.01 L551.88,1158.39 L550.49,1158.77 L549.1,1159.15 L547.71,1159.53 L546.32,1159.91 L544.93,1160.29 L543.54,1160.66 L542.15,1161.04 L540.76,1161.42 L539.37,1161.8 L537.98,1162.17 L536.6,1162.55 L535.21,1162.93 L533.82,1163.31 L532.43,1163.69 L531.05,1164.07 L529.66,1164.45 L528.28,1164.84 L526.89,1165.22 L525.51,1165.61 L524.12,1166 L522.74,1166.39 L521.36,1166.78 L519.98,1167.17 L518.6,1167.57 L517.22,1167.97 L515.84,1168.38 L514.47,1168.78 L513.09,1169.19 L511.72,1169.6 L510.34,1170.02 L508.97,1170.44 L507.6,1170.86 L506.23,1171.29 L504.86,1171.72 L503.5,1172.15 L502.13,1172.59 L500.77,1173.03 L499.4,1173.48 L498.04,1173.92 L496.68,1174.37 L495.32,1174.83 L493.96,1175.28 L492.6,1175.74 L491.24,1176.2 L489.88,1176.67 L488.53,1177.14 L487.17,1177.61 L485.81,1178.08 L484.46,1178.55 L483.11,1179.03 L481.75,1179.51 L480.4,1179.99 L479.05,1180.48 L477.7,1180.96 L476.35,1181.45 L475,1181.94 L473.65,1182.44 L472.3,1182.93 L470.95,1183.43 L469.61,1183.92 L468.26,1184.42 L466.91,1184.92 L465.57,1185.43 L464.22,1185.93 L462.87,1186.43 L461.53,1186.94 L460.18,1187.45 L458.84,1187.96 L457.49,1188.47 L456.15,1188.98 L454.8,1189.49 L453.46,1190 L452.12,1190.51 L450.77,1191.03 L449.43,1191.54 L448.08,1192.06 L446.74,1192.57 L445.39,1193.09 L444.05,1193.6 L442.7,1194.12 L441.36,1194.64 L440.01,1195.15 L438.67,1195.67 L437.32,1196.19 L435.98,1196.71 L434.63,1197.22 L433.29,1197.74 L431.94,1198.25 L430.59,1198.77 L429.25,1199.29 L427.9,1199.8 L426.55,1200.31 L425.2,1200.83 L423.86,1201.34 L422.51,1201.85 L421.16,1202.36 L419.81,1202.88 L418.46,1203.38 L417.11,1203.89 L415.76,1204.4 L414.41,1204.91 L413.06,1205.41 L411.7,1205.92 L410.35,1206.42 L409,1206.92 L407.64,1207.42 L406.29,1207.91 L404.93,1208.41 L403.58,1208.9 L402.22,1209.4 L400.86,1209.89 L399.5,1210.38 L398.15,1210.86 L396.79,1211.35 L395.43,1211.83 L394.07,1212.31 L392.7,1212.79 L391.34,1213.26 L389.98,1213.74 L388.61,1214.21 L387.25,1214.67 L385.88,1215.14 L384.52,1215.6 L383.15,1216.06 L381.78,1216.52 L380.41,1216.97 L379.04,1217.43 L377.67,1217.87 L376.3,1218.32 L374.92,1218.76 L373.55,1219.2 L372.17,1219.63 L370.8,1220.07 L369.42,1220.49 L368.04,1220.92 L366.66,1221.34 L365.28,1221.76 L363.9,1222.17 L362.52,1222.58 L361.13,1222.99 L359.75,1223.39 L358.36,1223.79 L356.97,1224.18 L355.58,1224.57 L354.19,1224.96 L352.8,1225.34 L351.41,1225.72 L350.01,1226.09 L348.62,1226.46 L347.22,1226.82 L345.82,1227.18 L344.42,1227.54 L343.02,1227.88 L341.62,1228.23 L340.21,1228.57 L338.81,1228.9 L337.4,1229.23 L335.99,1229.56 L334.58,1229.88 L333.17,1230.19 L331.76,1230.5 L330.35,1230.81 L328.93,1231.1 L327.51,1231.4 L326.09,1231.68 L324.67,1231.96 L323.25,1232.24 L321.82,1232.51 L320.4,1232.77 L318.97,1233.03 L317.54,1233.28 L316.11,1233.53 L314.68,1233.77 L313.24,1234" fill="none" stroke="#52309e" stroke-width="5.6" stroke-linecap="round" stroke-linejoin="round"/>
<path d="M315.01,1250.7 L315.07,1249.07 L315.13,1247.44 L315.21,1245.81 L315.28,1244.19 L315.36,1242.57 L315.45,1240.95 L315.54,1239.34 L315.64,1237.73 L315.74,1236.12 L315.84,1234.51 L315.95,1232.91 L316.07,1231.31 L316.19,1229.72 L316.31,1228.12 L316.44,1226.53 L316.57,1224.94 L316.71,1223.36 L316.85,1221.77 L317,1220.19 L317.15,1218.61 L317.31,1217.03 L317.47,1215.46 L317.63,1213.89 L317.8,1212.31 L317.98,1210.75 L318.15,1209.18 L318.33,1207.61 L318.52,1206.05 L318.71,1204.49 L318.91,1202.93 L319.1,1201.37 L319.31,1199.82 L319.51,1198.26 L319.73,1196.71 L319.94,1195.16 L320.16,1193.61 L320.38,1192.06 L320.61,1190.52 L320.84,1188.97 L321.08,1187.43 L321.32,1185.88 L321.56,1184.34 L321.81,1182.8 L322.06,1181.26 L322.31,1179.72 L322.57,1178.18 L322.83,1176.65 L323.1,1175.11 L323.36,1173.57 L323.64,1172.04 L323.91,1170.5 L324.19,1168.97 L324.48,1167.44 L324.76,1165.91 L325.05,1164.37 L325.35,1162.84 L325.64,1161.31 L325.95,1159.78 L326.25,1158.25 L326.56,1156.72 L326.87,1155.19 L327.18,1153.65 L327.5,1152.12 L327.82,1150.59 L328.14,1149.06 L328.47,1147.53 L328.8,1146 L329.13,1144.47 L329.47,1142.94 L329.81,1141.4 L330.15,1139.87 L330.5,1138.34 L330.85,1136.8 L331.2,1135.27 L331.55,1133.73 L331.91,1132.2 L332.27,1130.66 L332.63,1129.12 L333,1127.58 L333.37,1126.05 L333.74,1124.51 L334.11,1122.96 L334.49,1121.42 L334.87,1119.88 L335.25,1118.33 L335.64,1116.79 L336.02,1115.24 L336.41,1113.69 L336.81,1112.14 L337.2,1110.59 L337.6,1109.04 L338,1107.48 L338.4,1105.93 L338.8,1104.37 L339.21,1102.81 L339.62,1101.25 L340.03,1099.68 L340.45,1098.12 L340.87,1096.55 L341.29,1094.99 L341.71,1093.42 L342.14,1091.85 L342.57,1090.29 L343.01,1088.72 L343.45,1087.15 L343.9,1085.59 L344.35,1084.03 L344.81,1082.47 L345.27,1080.91 L345.74,1079.35 L346.21,1077.79 L346.69,1076.24 L347.18,1074.69 L347.68,1073.15 L348.18,1071.61 L348.69,1070.07 L349.21,1068.54 L349.74,1067.01 L350.27,1065.49 L350.82,1063.97 L351.37,1062.46 L351.93,1060.95 L352.5,1059.45 L353.09,1057.96 L353.68,1056.48 L354.28,1055 L354.89,1053.52 L355.52,1052.06 L356.15,1050.61 L356.8,1049.16 L357.45,1047.72 L358.12,1046.29 L358.81,1044.87 L359.5,1043.46 L360.21,1042.06 L360.93,1040.67 L361.66,1039.29 L362.41,1037.92 L363.17,1036.56 L363.95,1035.21 L364.74,1033.88 L365.54,1032.55 L366.36,1031.24 L367.2,1029.94 L368.05,1028.66 L368.91,1027.39 L369.8,1026.13 L370.7,1024.88 L371.61,1023.65 L372.54,1022.44 L373.49,1021.24 L374.46,1020.05 L375.44,1018.88 L376.45,1017.72 L377.46,1016.58 L378.5,1015.46 L379.55,1014.34 L380.62,1013.25 L381.7,1012.17 L382.8,1011.1 L383.91,1010.05 L385.04,1009.02 L386.18,1008 L387.34,1006.99 L388.51,1006.01 L389.69,1005.03 L390.89,1004.07 L392.1,1003.13 L393.33,1002.2 L394.57,1001.29 L395.82,1000.39 L397.08,999.5 L398.35,998.64 L399.64,997.78 L400.94,996.94 L402.25,996.12 L403.57,995.31 L404.9,994.52 L406.24,993.74 L407.59,992.98 L408.95,992.24 L410.32,991.5 L411.7,990.79 L413.09,990.09 L414.48,989.4 L415.89,988.73 L417.3,988.07 L418.73,987.43 L420.15,986.81 L421.59,986.19 L423.04,985.6 L424.49,985.02 L425.94,984.45 L427.41,983.9 L428.88,983.36 L430.36,982.84 L431.84,982.33 L433.33,981.83 L434.82,981.35 L436.32,980.88 L437.83,980.42 L439.34,979.97 L440.86,979.54 L442.38,979.12 L443.91,978.7 L445.44,978.3 L446.98,977.91 L448.52,977.53 L450.07,977.16 L451.62,976.8 L453.17,976.45 L454.73,976.11 L456.29,975.78 L457.85,975.45 L459.42,975.14 L460.99,974.83 L462.57,974.53 L464.15,974.24 L465.73,973.95 L467.31,973.68 L468.9,973.4 L470.49,973.14 L472.08,972.88 L473.67,972.63 L475.26,972.38 L476.86,972.14 L478.46,971.9 L480.06,971.67 L481.66,971.44 L483.26,971.21 L484.86,970.99 L486.47,970.77 L488.07,970.56 L489.68,970.35 L491.28,970.14 L492.89,969.93 L494.5,969.73 L496.1,969.52 L497.71,969.32 L499.32,969.12 L500.92,968.92 L502.53,968.72 L504.13,968.52 L505.73,968.32 L507.33,968.13 L508.93,967.93 L510.53,967.72 L512.13,967.52 L513.73,967.32 L515.32,967.11 L516.91,966.91 L518.5,966.7 L520.09,966.49 L521.68,966.27 L523.26,966.05 L524.84,965.83 L526.42,965.61 L527.99,965.39 L529.57,965.16 L531.14,964.93 L532.71,964.7 L534.28,964.47 L535.84,964.23 L537.41,964 L538.97,963.76 L540.53,963.53 L542.09,963.29 L543.65,963.05 L545.21,962.82 L546.77,962.58 L548.32,962.34 L549.87,962.11 L551.43,961.87 L552.98,961.64 L554.53,961.4 L556.08,961.17 L557.63,960.94 L559.18,960.71 L560.73,960.48 L562.27,960.26 L563.82,960.03 L565.37,959.81 L566.91,959.59 L568.46,959.38 L570.01,959.17 L571.55,958.96 L573.1,958.75 L574.65,958.55 L576.19,958.35 L577.74,958.15 L579.29,957.96 L580.84,957.77 L582.38,957.59 L583.93,957.41 L585.48,957.24 L587.03,957.07 L588.59,956.91 L590.14,956.75 L591.69,956.6 L593.25,956.46 L594.8,956.32 L596.36,956.19 L597.92,956.06 L599.48,955.94 L601.04,955.83 L602.6,955.72 L604.16,955.62 L605.73,955.53 L607.3,955.44 L608.86,955.36 L610.44,955.29 L612.01,955.23 L613.58,955.16 L615.15,955.11 L616.73,955.06 L618.31,955.02 L619.89,954.98 L621.46,954.94 L623.04,954.91 L624.63,954.89 L626.21,954.87 L627.79,954.85 L629.38,954.84 L630.96,954.83 L632.55,954.82 L634.13,954.81 L635.72,954.81 L637.31,954.81 L638.9,954.81 L640.49,954.82 L642.08,954.82 L643.67,954.83 L645.26,954.84 L646.85,954.85 L648.44,954.86 L650.04,954.87 L651.63,954.88 L653.22,954.89 L654.81,954.9 L656.41,954.91 L658,954.92 L659.59,954.93 L661.19,954.94 L662.78,954.94 L664.37,954.95 L665.97,954.95 L667.56,954.95 L669.15,954.95 L670.74,954.95 L672.33,954.94 L673.93,954.93 L675.52,954.92 L677.11,954.9 L678.7,954.88 L680.29,954.85 L681.88,954.82 L683.47,954.79 L685.05,954.75 L686.64,954.71 L688.23,954.66 L689.81,954.61 L691.4,954.55 L692.98,954.48 L694.56,954.41 L696.14,954.34 L697.72,954.25 L699.3,954.16 L700.88,954.06 L702.46,953.96 L704.04,953.85 L705.61,953.73 L707.18,953.6 L708.76,953.46 L710.33,953.32 L711.9,953.16 L713.46,953 L715.03,952.83 L716.59,952.65 L718.16,952.46 L719.72,952.26 L721.28,952.04 L722.83,951.82 L724.39,951.59 L725.94,951.35 L727.5,951.1 L729.05,950.83 L730.59,950.55 L732.14,950.27 L733.68,949.97 L735.22,949.65 L736.76,949.33 L738.3,948.99 L739.84,948.64 L741.37,948.28 L742.9,947.9 L744.43,947.51 L745.95,947.11 L747.47,946.69 L748.99,946.25" fill="none" stroke="#df2e22" stroke-width="5.4" stroke-linecap="round" stroke-linejoin="round"/>
<path d="M748.13,945.5 L748.08,946.86 L748.03,948.24 L747.97,949.62 L747.92,951 L747.86,952.39 L747.81,953.79 L747.75,955.19 L747.69,956.6 L747.63,958.02 L747.57,959.43 L747.5,960.86 L747.44,962.28 L747.37,963.72 L747.29,965.15 L747.22,966.59 L747.14,968.04 L747.06,969.48 L746.98,970.93 L746.89,972.39 L746.8,973.85 L746.7,975.31 L746.6,976.77 L746.5,978.24 L746.39,979.71 L746.28,981.18 L746.17,982.65 L746.04,984.13 L745.92,985.6 L745.79,987.08 L745.65,988.56 L745.51,990.05 L745.36,991.53 L745.2,993.01 L745.04,994.5 L744.88,995.98 L744.7,997.47 L744.52,998.95 L744.34,1000.44 L744.14,1001.93 L743.94,1003.41 L743.74,1004.9 L743.52,1006.38 L743.3,1007.86 L743.07,1009.35 L742.83,1010.83 L742.58,1012.31 L742.32,1013.79 L742.06,1015.27 L741.78,1016.74 L741.5,1018.21 L741.21,1019.69 L740.91,1021.16 L740.6,1022.62 L740.28,1024.09 L739.95,1025.55 L739.61,1027 L739.26,1028.46 L738.9,1029.91 L738.53,1031.36 L738.15,1032.8 L737.76,1034.24 L737.36,1035.68 L736.94,1037.11 L736.52,1038.54 L736.09,1039.96 L735.64,1041.38 L735.19,1042.79 L734.72,1044.2 L734.24,1045.6 L733.75,1047 L733.25,1048.39 L732.74,1049.77 L732.21,1051.15 L731.68,1052.53 L731.13,1053.89 L730.57,1055.25 L730,1056.61 L729.42,1057.95 L728.82,1059.29 L728.22,1060.63 L727.6,1061.95 L726.97,1063.27 L726.32,1064.58 L725.67,1065.88 L725,1067.18 L724.32,1068.46 L723.62,1069.74 L722.92,1071.01 L722.2,1072.27 L721.47,1073.53 L720.73,1074.77 L719.98,1076.01 L719.21,1077.24 L718.43,1078.45 L717.64,1079.67 L716.84,1080.87 L716.03,1082.06 L715.21,1083.25 L714.38,1084.42 L713.53,1085.59 L712.67,1086.75 L711.81,1087.89 L710.93,1089.03 L710.04,1090.16 L709.14,1091.29 L708.23,1092.4 L707.31,1093.5 L706.38,1094.59 L705.43,1095.68 L704.48,1096.75 L703.52,1097.82 L702.55,1098.87 L701.56,1099.92 L700.57,1100.95 L699.57,1101.98 L698.55,1102.99 L697.53,1104 L696.5,1104.99 L695.46,1105.98 L694.41,1106.95 L693.35,1107.92 L692.28,1108.87 L691.2,1109.82 L690.11,1110.75 L689.02,1111.68 L687.91,1112.59 L686.8,1113.49 L685.67,1114.39 L684.54,1115.27 L683.4,1116.14 L682.25,1117 L681.09,1117.85 L679.93,1118.68 L678.75,1119.51 L677.57,1120.33 L676.38,1121.13 L675.18,1121.92 L673.98,1122.71 L672.76,1123.48 L671.54,1124.24 L670.31,1124.99 L669.08,1125.72 L667.83,1126.45 L666.58,1127.16 L665.32,1127.86 L664.06,1128.55 L662.78,1129.23 L661.5,1129.9 L660.22,1130.56 L658.92,1131.2 L657.62,1131.84 L656.32,1132.47 L655.01,1133.08 L653.69,1133.69 L652.36,1134.29 L651.04,1134.88 L649.7,1135.46 L648.36,1136.03 L647.02,1136.59 L645.67,1137.15 L644.32,1137.69 L642.96,1138.23 L641.6,1138.77 L640.23,1139.29 L638.86,1139.81 L637.49,1140.33 L636.11,1140.83 L634.73,1141.33 L633.34,1141.83 L631.95,1142.32 L630.56,1142.8 L629.17,1143.28 L627.77,1143.76 L626.38,1144.23 L624.97,1144.7 L623.57,1145.16 L622.17,1145.62 L620.76,1146.08 L619.35,1146.54 L617.94,1146.99 L616.53,1147.44 L615.12,1147.88 L613.71,1148.33 L612.29,1148.77 L610.88,1149.21 L609.46,1149.65 L608.05,1150.09 L606.63,1150.53 L605.22,1150.97 L603.8,1151.41 L602.39,1151.85 L600.97,1152.29 L599.56,1152.73 L598.15,1153.16 L596.73,1153.6 L595.32,1154.04 L593.91,1154.48 L592.5,1154.92 L591.09,1155.36 L589.68,1155.8 L588.27,1156.24 L586.86,1156.68 L585.45,1157.13 L584.04,1157.57 L582.63,1158.01 L581.22,1158.45 L579.81,1158.89 L578.4,1159.33 L577,1159.78 L575.59,1160.22 L574.18,1160.66 L572.78,1161.1 L571.37,1161.55 L569.97,1161.99 L568.56,1162.43 L567.16,1162.88 L565.75,1163.32 L564.35,1163.76 L562.95,1164.21 L561.54,1164.65 L560.14,1165.1 L558.74,1165.54 L557.33,1165.99 L555.93,1166.43 L554.53,1166.88 L553.13,1167.33 L551.73,1167.77 L550.33,1168.22 L548.93,1168.67 L547.53,1169.11 L546.13,1169.56 L544.73,1170.01 L543.33,1170.46 L541.93,1170.9 L540.53,1171.35 L539.14,1171.8 L537.74,1172.25 L536.34,1172.7 L534.94,1173.15 L533.55,1173.6 L532.15,1174.05 L530.75,1174.5 L529.36,1174.95 L527.96,1175.4 L526.57,1175.85 L525.17,1176.3 L523.78,1176.76 L522.38,1177.21 L520.99,1177.66 L519.6,1178.11 L518.2,1178.57 L516.81,1179.02 L515.42,1179.47 L514.02,1179.93 L512.63,1180.38 L511.24,1180.84 L509.85,1181.29 L508.45,1181.75 L507.06,1182.2 L505.67,1182.66 L504.28,1183.11 L502.89,1183.57 L501.5,1184.03 L500.11,1184.49 L498.72,1184.94 L497.33,1185.4 L495.94,1185.86 L494.55,1186.32 L493.16,1186.78 L491.77,1187.24 L490.38,1187.7 L489,1188.16 L487.61,1188.62 L486.22,1189.08 L484.83,1189.54 L483.44,1190 L482.06,1190.46 L480.67,1190.93 L479.28,1191.39 L477.9,1191.85 L476.51,1192.31 L475.12,1192.78 L473.74,1193.24 L472.35,1193.71 L470.97,1194.17 L469.58,1194.64 L468.19,1195.1 L466.81,1195.57 L465.42,1196.04 L464.04,1196.5 L462.66,1196.97 L461.27,1197.44 L459.89,1197.91 L458.5,1198.37 L457.12,1198.84 L455.73,1199.31 L454.35,1199.78 L452.97,1200.25 L451.58,1200.72 L450.2,1201.19 L448.82,1201.67 L447.43,1202.14 L446.05,1202.61 L444.67,1203.08 L443.29,1203.56 L441.9,1204.03 L440.52,1204.5 L439.14,1204.98 L437.76,1205.45 L436.38,1205.93 L434.99,1206.4 L433.61,1206.88 L432.23,1207.36 L430.85,1207.83 L429.47,1208.31 L428.09,1208.79 L426.71,1209.27 L425.33,1209.75 L423.95,1210.23 L422.56,1210.71 L421.18,1211.19 L419.8,1211.67 L418.42,1212.15 L417.04,1212.63 L415.66,1213.11 L414.28,1213.6 L412.9,1214.08 L411.52,1214.56 L410.14,1215.05 L408.76,1215.53 L407.38,1216.02 L406,1216.5 L404.62,1216.99 L403.24,1217.48 L401.86,1217.96 L400.49,1218.45 L399.11,1218.94 L397.73,1219.43 L396.35,1219.92 L394.97,1220.41 L393.59,1220.9 L392.21,1221.39 L390.83,1221.88 L389.45,1222.37 L388.07,1222.86 L386.69,1223.36 L385.31,1223.85 L383.94,1224.34 L382.56,1224.84 L381.18,1225.33 L379.8,1225.83 L378.42,1226.33 L377.04,1226.82 L375.66,1227.32 L374.28,1227.82 L372.91,1228.32 L371.53,1228.81 L370.15,1229.31 L368.77,1229.81 L367.39,1230.31 L366.01,1230.81 L364.63,1231.32 L363.26,1231.82 L361.88,1232.32 L360.5,1232.82 L359.12,1233.33 L357.74,1233.83 L356.36,1234.34 L354.98,1234.84 L353.6,1235.35 L352.23,1235.86 L350.85,1236.36 L349.47,1236.87 L348.09,1237.38 L346.71,1237.89 L345.33,1238.4 L343.95,1238.91 L342.57,1239.42 L341.19,1239.93 L339.81,1240.45 L338.44,1240.96 L337.06,1241.47 L335.68,1241.99 L334.3,1242.5 L332.92,1243.02 L331.54,1243.53 L330.16,1244.05 L328.78,1244.57 L327.4,1245.08 L326.02,1245.6 L324.64,1246.12 L323.26,1246.64 L321.88,1247.16 L320.5,1247.68 L319.12,1248.2 L317.74,1248.72 L316.36,1249.25 L314.98,1249.77 L313.6,1250.3" fill="none" stroke="#df2e22" stroke-width="5.4" stroke-linecap="round" stroke-linejoin="round"/>
<path d="M313.65,1319.82 L313.96,1318.18 L314.27,1316.54 L314.58,1314.9 L314.89,1313.25 L315.2,1311.6 L315.51,1309.95 L315.81,1308.3 L316.12,1306.65 L316.42,1304.99 L316.72,1303.33 L317.03,1301.67 L317.33,1300 L317.63,1298.34 L317.93,1296.67 L318.23,1295 L318.53,1293.33 L318.83,1291.66 L319.13,1289.99 L319.44,1288.31 L319.74,1286.63 L320.04,1284.96 L320.34,1283.28 L320.64,1281.6 L320.95,1279.91 L321.25,1278.23 L321.55,1276.55 L321.86,1274.86 L322.17,1273.18 L322.47,1271.49 L322.78,1269.8 L323.09,1268.11 L323.4,1266.42 L323.71,1264.73 L324.03,1263.04 L324.34,1261.35 L324.66,1259.66 L324.98,1257.97 L325.3,1256.28 L325.62,1254.59 L325.94,1252.89 L326.27,1251.2 L326.6,1249.51 L326.93,1247.82 L327.26,1246.12 L327.6,1244.43 L327.94,1242.74 L328.28,1241.05 L328.62,1239.36 L328.96,1237.67 L329.31,1235.97 L329.67,1234.28 L330.02,1232.59 L330.38,1230.91 L330.74,1229.22 L331.1,1227.53 L331.47,1225.84 L331.84,1224.16 L332.22,1222.47 L332.6,1220.79 L332.98,1219.11 L333.37,1217.42 L333.76,1215.74 L334.15,1214.06 L334.55,1212.39 L334.95,1210.71 L335.36,1209.03 L335.77,1207.36 L336.19,1205.69 L336.61,1204.02 L337.03,1202.35 L337.46,1200.68 L337.9,1199.02 L338.33,1197.35 L338.78,1195.69 L339.23,1194.03 L339.68,1192.37 L340.14,1190.72 L340.61,1189.07 L341.08,1187.41 L341.56,1185.77 L342.04,1184.12 L342.53,1182.48 L343.02,1180.83 L343.52,1179.2 L344.02,1177.56 L344.53,1175.93 L345.05,1174.3 L345.58,1172.67 L346.11,1171.04 L346.64,1169.42 L347.19,1167.8 L347.74,1166.19 L348.29,1164.57 L348.85,1162.96 L349.42,1161.36 L350,1159.75 L350.58,1158.15 L351.17,1156.55 L351.76,1154.96 L352.36,1153.37 L352.97,1151.78 L353.58,1150.19 L354.2,1148.61 L354.83,1147.03 L355.46,1145.45 L356.1,1143.87 L356.74,1142.3 L357.39,1140.73 L358.05,1139.17 L358.71,1137.6 L359.38,1136.04 L360.06,1134.49 L360.74,1132.93 L361.42,1131.38 L362.12,1129.83 L362.82,1128.29 L363.52,1126.74 L364.23,1125.2 L364.95,1123.67 L365.67,1122.13 L366.4,1120.6 L367.13,1119.07 L367.87,1117.55 L368.62,1116.02 L369.37,1114.5 L370.12,1112.98 L370.89,1111.47 L371.65,1109.96 L372.43,1108.45 L373.21,1106.94 L373.99,1105.44 L374.78,1103.94 L375.58,1102.44 L376.38,1100.94 L377.19,1099.45 L378,1097.96 L378.82,1096.47 L379.64,1094.99 L380.47,1093.51 L381.3,1092.03 L382.14,1090.55 L382.98,1089.07 L383.83,1087.6 L384.69,1086.13 L385.55,1084.67 L386.42,1083.21 L387.29,1081.74 L388.16,1080.29 L389.04,1078.83 L389.93,1077.38 L390.82,1075.93 L391.72,1074.48 L392.62,1073.03 L393.52,1071.59 L394.44,1070.15 L395.35,1068.71 L396.27,1067.28 L397.2,1065.85 L398.13,1064.42 L399.07,1062.99 L400.01,1061.57 L400.95,1060.14 L401.9,1058.72 L402.86,1057.31 L403.82,1055.89 L404.78,1054.48 L405.75,1053.07 L406.73,1051.66 L407.71,1050.26 L408.69,1048.86 L409.68,1047.46 L410.67,1046.06 L411.67,1044.67 L412.67,1043.28 L413.68,1041.89 L414.69,1040.5 L415.7,1039.11 L416.72,1037.73 L417.75,1036.35 L418.78,1034.97 L419.81,1033.6 L420.85,1032.23 L421.89,1030.86 L422.93,1029.49 L423.98,1028.12 L425.04,1026.76 L426.1,1025.4 L427.16,1024.04 L428.23,1022.68 L429.3,1021.33 L430.37,1019.98 L431.45,1018.63 L432.54,1017.28 L433.62,1015.94 L434.72,1014.6 L435.81,1013.26 L436.91,1011.92 L438.01,1010.59 L439.12,1009.25 L440.23,1007.92 L441.35,1006.59 L442.47,1005.27 L443.59,1003.94 L444.72,1002.62 L445.85,1001.3 L446.99,999.99 L448.13,998.68 L449.27,997.37 L450.42,996.07 L451.58,994.78 L452.74,993.5 L453.91,992.22 L455.09,990.95 L456.27,989.69 L457.46,988.44 L458.66,987.2 L459.86,985.97 L461.08,984.76 L462.3,983.56 L463.53,982.37 L464.77,981.19 L466.02,980.03 L467.29,978.89 L468.56,977.76 L469.84,976.66 L471.13,975.56 L472.44,974.49 L473.75,973.44 L475.08,972.4 L476.42,971.39 L477.77,970.4 L479.14,969.43 L480.51,968.49 L481.91,967.56 L483.31,966.67 L484.73,965.79 L486.17,964.95 L487.62,964.13 L489.08,963.34 L490.56,962.57 L492.06,961.83 L493.56,961.12 L495.09,960.44 L496.62,959.78 L498.17,959.15 L499.73,958.54 L501.3,957.96 L502.89,957.41 L504.48,956.88 L506.09,956.37 L507.7,955.89 L509.32,955.44 L510.95,955.01 L512.59,954.6 L514.24,954.21 L515.89,953.85 L517.55,953.51 L519.22,953.19 L520.89,952.89 L522.57,952.62 L524.25,952.36 L525.94,952.13 L527.63,951.91 L529.33,951.71 L531.03,951.53 L532.73,951.37 L534.44,951.22 L536.15,951.08 L537.86,950.96 L539.58,950.85 L541.3,950.75 L543.03,950.67 L544.75,950.59 L546.48,950.53 L548.21,950.47 L549.94,950.42 L551.67,950.38 L553.4,950.34 L555.14,950.31 L556.88,950.28 L558.61,950.26 L560.35,950.24 L562.09,950.22 L563.82,950.21 L565.56,950.19 L567.3,950.17 L569.03,950.15 L570.77,950.13 L572.5,950.11 L574.23,950.08 L575.96,950.04 L577.69,950 L579.42,949.96 L581.15,949.91 L582.87,949.84 L584.59,949.77 L586.31,949.69 L588.02,949.6 L589.73,949.5 L591.44,949.38 L593.14,949.26 L594.84,949.11 L596.54,948.96 L598.23,948.78 L599.91,948.59 L601.6,948.39 L603.27,948.16 L604.94,947.91 L606.61,947.65 L608.27,947.36 L609.92,947.06 L611.57,946.73 L613.21,946.37 L614.85,945.99 L616.48,945.59 L618.1,945.16 L619.72,944.71 L621.32,944.23 L622.93,943.73 L624.52,943.2 L626.11,942.66 L627.7,942.09 L629.28,941.51 L630.86,940.91 L632.43,940.29 L633.99,939.66 L635.56,939.01 L637.12,938.35 L638.68,937.67 L640.23,936.99 L641.79,936.29 L643.34,935.58 L644.89,934.87 L646.43,934.15 L647.98,933.43 L649.53,932.7 L651.07,931.96 L652.62,931.23 L654.16,930.49 L655.71,929.75 L657.26,929.02 L658.81,928.28 L660.36,927.55 L661.91,926.82 L663.46,926.1 L665.02,925.38 L666.58,924.67 L668.14,923.97 L669.71,923.28 L671.28,922.6 L672.85,921.93 L674.43,921.28 L676.01,920.64 L677.6,920.01 L679.2,919.4 L680.79,918.81 L682.4,918.23 L684.01,917.67 L685.62,917.13 L687.24,916.6 L688.87,916.08 L690.5,915.57 L692.13,915.08 L693.76,914.59 L695.4,914.11 L697.04,913.64 L698.68,913.17 L700.32,912.71 L701.96,912.26 L703.61,911.8 L705.25,911.35 L706.89,910.9 L708.54,910.45 L710.18,910 L711.82,909.54 L713.46,909.08 L715.1,908.62 L716.74,908.15 L718.37,907.67 L720,907.18 L721.63,906.69 L723.25,906.18 L724.87,905.66 L726.48,905.13 L728.09,904.59 L729.7,904.03 L731.3,903.46 L732.89,902.86 L734.47,902.25 L736.05,901.63 L737.62,900.98 L739.19,900.3 L740.74,899.61 L742.29,898.89 L743.83,898.15 L745.36,897.38 L746.88,896.59 L748.39,895.76 L749.89,894.91" fill="none" stroke="#035e18" stroke-width="5.3" stroke-linecap="round" stroke-linejoin="round"/>
<path d="M749.97,894.49 L749.78,896.01 L749.6,897.53 L749.42,899.06 L749.23,900.59 L749.05,902.13 L748.86,903.67 L748.67,905.22 L748.47,906.77 L748.28,908.33 L748.08,909.89 L747.88,911.45 L747.68,913.02 L747.47,914.59 L747.26,916.17 L747.05,917.75 L746.84,919.33 L746.62,920.91 L746.4,922.5 L746.18,924.09 L745.95,925.69 L745.72,927.28 L745.49,928.88 L745.25,930.49 L745.01,932.09 L744.77,933.7 L744.52,935.3 L744.27,936.91 L744.01,938.53 L743.75,940.14 L743.48,941.75 L743.21,943.37 L742.94,944.99 L742.66,946.61 L742.38,948.22 L742.09,949.84 L741.8,951.46 L741.5,953.09 L741.19,954.71 L740.88,956.33 L740.57,957.95 L740.25,959.57 L739.92,961.19 L739.59,962.81 L739.25,964.43 L738.91,966.05 L738.56,967.67 L738.21,969.29 L737.84,970.91 L737.48,972.52 L737.1,974.14 L736.72,975.75 L736.33,977.36 L735.94,978.97 L735.54,980.58 L735.13,982.18 L734.71,983.79 L734.29,985.39 L733.86,986.99 L733.42,988.58 L732.98,990.17 L732.53,991.77 L732.07,993.35 L731.6,994.94 L731.12,996.52 L730.64,998.1 L730.15,999.67 L729.65,1001.24 L729.14,1002.81 L728.62,1004.37 L728.1,1005.93 L727.57,1007.49 L727.02,1009.04 L726.47,1010.58 L725.91,1012.12 L725.34,1013.66 L724.77,1015.19 L724.18,1016.72 L723.58,1018.24 L722.97,1019.76 L722.36,1021.27 L721.73,1022.77 L721.1,1024.27 L720.45,1025.76 L719.8,1027.25 L719.13,1028.73 L718.46,1030.21 L717.77,1031.68 L717.08,1033.14 L716.37,1034.59 L715.65,1036.04 L714.93,1037.48 L714.19,1038.92 L713.44,1040.35 L712.68,1041.77 L711.91,1043.18 L711.12,1044.58 L710.33,1045.98 L709.52,1047.37 L708.71,1048.75 L707.88,1050.12 L707.04,1051.49 L706.19,1052.84 L705.32,1054.19 L704.45,1055.53 L703.56,1056.86 L702.66,1058.18 L701.74,1059.49 L700.82,1060.79 L699.88,1062.09 L698.93,1063.37 L697.97,1064.64 L696.99,1065.91 L696,1067.16 L695,1068.41 L693.99,1069.64 L692.96,1070.86 L691.91,1072.08 L690.86,1073.28 L689.79,1074.47 L688.71,1075.65 L687.62,1076.83 L686.52,1077.99 L685.4,1079.14 L684.27,1080.29 L683.14,1081.43 L681.99,1082.56 L680.83,1083.68 L679.67,1084.79 L678.49,1085.9 L677.31,1087 L676.12,1088.09 L674.91,1089.18 L673.71,1090.26 L672.49,1091.34 L671.27,1092.4 L670.04,1093.47 L668.8,1094.53 L667.56,1095.58 L666.31,1096.63 L665.06,1097.67 L663.8,1098.72 L662.54,1099.75 L661.28,1100.79 L660.01,1101.82 L658.73,1102.85 L657.46,1103.87 L656.18,1104.9 L654.9,1105.92 L653.61,1106.94 L652.33,1107.95 L651.04,1108.97 L649.76,1109.99 L648.47,1111 L647.18,1112.02 L645.89,1113.03 L644.61,1114.05 L643.32,1115.06 L642.04,1116.08 L640.75,1117.09 L639.47,1118.11 L638.18,1119.12 L636.9,1120.14 L635.61,1121.15 L634.33,1122.17 L633.04,1123.18 L631.76,1124.19 L630.47,1125.2 L629.19,1126.21 L627.9,1127.22 L626.62,1128.23 L625.33,1129.23 L624.04,1130.23 L622.75,1131.24 L621.47,1132.24 L620.18,1133.24 L618.89,1134.23 L617.59,1135.23 L616.3,1136.22 L615.01,1137.21 L613.71,1138.2 L612.42,1139.18 L611.12,1140.16 L609.82,1141.14 L608.52,1142.12 L607.21,1143.09 L605.91,1144.06 L604.6,1145.03 L603.3,1145.99 L601.99,1146.95 L600.67,1147.91 L599.36,1148.86 L598.04,1149.81 L596.72,1150.75 L595.4,1151.68 L594.07,1152.61 L592.74,1153.53 L591.4,1154.44 L590.06,1155.34 L588.71,1156.23 L587.36,1157.11 L586,1157.99 L584.64,1158.85 L583.27,1159.69 L581.89,1160.53 L580.51,1161.35 L579.12,1162.16 L577.72,1162.96 L576.31,1163.74 L574.9,1164.5 L573.47,1165.25 L572.04,1165.98 L570.6,1166.7 L569.15,1167.39 L567.69,1168.07 L566.22,1168.73 L564.73,1169.37 L563.24,1169.99 L561.74,1170.58 L560.22,1171.16 L558.7,1171.72 L557.16,1172.25 L555.62,1172.77 L554.06,1173.27 L552.5,1173.76 L550.93,1174.24 L549.35,1174.7 L547.77,1175.15 L546.18,1175.59 L544.59,1176.02 L543,1176.45 L541.4,1176.87 L539.8,1177.28 L538.2,1177.7 L536.59,1178.11 L534.99,1178.52 L533.39,1178.93 L531.79,1179.35 L530.19,1179.77 L528.59,1180.19 L527,1180.62 L525.41,1181.06 L523.82,1181.51 L522.25,1181.97 L520.67,1182.44 L519.11,1182.92 L517.55,1183.42 L516,1183.93 L514.45,1184.46 L512.92,1185 L511.39,1185.55 L509.87,1186.12 L508.35,1186.7 L506.84,1187.29 L505.34,1187.89 L503.85,1188.51 L502.36,1189.14 L500.88,1189.78 L499.4,1190.44 L497.93,1191.11 L496.47,1191.78 L495.01,1192.47 L493.56,1193.17 L492.11,1193.88 L490.67,1194.61 L489.24,1195.34 L487.81,1196.08 L486.39,1196.84 L484.97,1197.6 L483.56,1198.37 L482.15,1199.16 L480.75,1199.95 L479.35,1200.75 L477.96,1201.56 L476.57,1202.38 L475.19,1203.21 L473.81,1204.04 L472.43,1204.89 L471.06,1205.74 L469.7,1206.6 L468.34,1207.47 L466.98,1208.34 L465.62,1209.22 L464.27,1210.11 L462.93,1211.01 L461.59,1211.91 L460.25,1212.82 L458.91,1213.74 L457.58,1214.66 L456.25,1215.58 L454.93,1216.52 L453.61,1217.46 L452.29,1218.4 L450.97,1219.35 L449.66,1220.3 L448.35,1221.26 L447.04,1222.22 L445.73,1223.19 L444.43,1224.16 L443.13,1225.13 L441.83,1226.11 L440.53,1227.09 L439.23,1228.08 L437.94,1229.06 L436.65,1230.05 L435.36,1231.05 L434.07,1232.04 L432.78,1233.04 L431.5,1234.04 L430.22,1235.04 L428.93,1236.04 L427.65,1237.05 L426.37,1238.05 L425.09,1239.06 L423.81,1240.07 L422.53,1241.08 L421.25,1242.09 L419.98,1243.09 L418.7,1244.1 L417.42,1245.11 L416.15,1246.12 L414.87,1247.13 L413.59,1248.14 L412.32,1249.14 L411.04,1250.15 L409.76,1251.15 L408.49,1252.15 L407.21,1253.15 L405.93,1254.15 L404.65,1255.15 L403.37,1256.14 L402.09,1257.13 L400.81,1258.12 L399.52,1259.11 L398.24,1260.09 L396.95,1261.07 L395.67,1262.04 L394.38,1263.02 L393.09,1263.98 L391.8,1264.95 L390.5,1265.91 L389.21,1266.86 L387.91,1267.81 L386.61,1268.76 L385.31,1269.69 L384,1270.63 L382.69,1271.55 L381.37,1272.47 L380.05,1273.38 L378.73,1274.28 L377.4,1275.17 L376.06,1276.05 L374.71,1276.91 L373.36,1277.77 L372,1278.62 L370.63,1279.45 L369.26,1280.27 L367.87,1281.08 L366.47,1281.87 L365.07,1282.65 L363.66,1283.42 L362.24,1284.18 L360.82,1284.93 L359.39,1285.67 L357.95,1286.41 L356.52,1287.14 L355.08,1287.87 L353.64,1288.59 L352.19,1289.31 L350.75,1290.03 L349.31,1290.75 L347.87,1291.48 L346.43,1292.2 L344.99,1292.93 L343.56,1293.67 L342.13,1294.41 L340.72,1295.16 L339.31,1295.93 L337.91,1296.71 L336.52,1297.51 L335.15,1298.32 L333.79,1299.15 L332.45,1300.01 L331.13,1300.89 L329.83,1301.79 L328.55,1302.73 L327.29,1303.69 L326.06,1304.69 L324.85,1305.72 L323.67,1306.78 L322.52,1307.89 L321.39,1309.03 L320.31,1310.21 L319.25,1311.44 L318.23,1312.72 L317.25,1314.04 L316.3,1315.41 L315.39,1316.84 L314.53,1318.32 L313.7,1319.85" fill="none" stroke="#035e18" stroke-width="5.3" stroke-linecap="round" stroke-linejoin="round"/>
<path d="M567.9,902.9 L598.5,925.6" stroke="#035e18" stroke-width="3" stroke-dasharray="7,5" fill="none"/>
<path d="M604.7,916.1 L592.2,933.4 L615.8,936.2 Z" stroke="#035e18" stroke-width="2.8" fill="none" stroke-linejoin="miter"/>
<path d="M537,996.3 L508,996.3" stroke="#52309e" stroke-width="3" stroke-dasharray="7,5" fill="none"/>
<path d="M486.2,995.9 L507.2,986.2 L507.2,1007.9 Z" stroke="#52309e" stroke-width="2.8" fill="none"/>
<path d="M455.5,1051.3 L466.0,1023.6" stroke="#52309e" stroke-width="3" stroke-dasharray="7,5" fill="none"/>
<path d="M458.5,1016.1 L477.2,1001.9 L478.0,1024.3 Z" stroke="#52309e" stroke-width="2.8" fill="none"/>
<path d="M644.2,1172 L644.2,1226.3" stroke="#df2e22" stroke-width="2.6" stroke-dasharray="8.3,5.5" fill="none"/>
<path d="M644.2,1150.0 L633.1,1170.8 L655.3,1170.8 Z" stroke="#df2e22" stroke-width="2.8" fill="none"/>
<text x="222.6" y="803.7" font-size="28.5" text-anchor="end" font-weight="bold">1 × 10<tspan font-size="20" dy="-13">−2</tspan></text>
<text x="222.6" y="941.7" font-size="28.5" text-anchor="end" font-weight="bold">5 × 10<tspan font-size="20" dy="-13">−3</tspan></text>
<text x="234" y="1073.3" font-size="28.5" text-anchor="end" fill="#000" font-weight="bold" >0</text>
<text x="220.4" y="1219.1" font-size="28.5" text-anchor="end" font-weight="bold">−5 × 10<tspan font-size="20" dy="-13">−3</tspan></text>
<text x="220.4" y="1356.5" font-size="28.5" text-anchor="end" font-weight="bold">−1 × 10<tspan font-size="20" dy="-13">−2</tspan></text>
<text x="252.7" y="1400.6" font-size="29.5" text-anchor="middle" fill="#000" font-weight="bold" >−0.8</text>
<text x="377.1" y="1400.6" font-size="29.5" text-anchor="middle" fill="#000" font-weight="bold" >−0.4</text>
<text x="502.1" y="1400.6" font-size="29.5" text-anchor="middle" fill="#000" font-weight="bold" >0</text>
<text x="625.3" y="1400.6" font-size="29.5" text-anchor="middle" fill="#000" font-weight="bold" >0.4</text>
<text x="749.9" y="1400.6" font-size="29.5" text-anchor="middle" fill="#000" font-weight="bold" >0.8</text>
<text x="578.2" y="1459.8" font-size="29.1" text-anchor="end" fill="#000" font-weight="bold" >Potential vs. Ag</text>
<text x="590.2" y="1459.8" font-size="29.1" text-anchor="start" fill="#000" font-weight="bold" >AgCl (V)</text>
<line x1="583.2" y1="1431.9" x2="583.2" y2="1462.4" stroke="#000" stroke-width="2"/>
<text x="51.2" y="1078.05" font-size="29.1" text-anchor="middle" font-weight="bold" transform="rotate(-90 51.2 1078.05)">Current (A)</text>
<text x="338.5" y="836.5" font-size="20.65" text-anchor="start" fill="#035e18" font-weight="bold" >Restructured Pt10Ir</text>
<text x="297.2" y="879" font-size="20.85" fill="#035e18" font-weight="bold">CSC<tspan font-size="12" dy="8.5">total</tspan><tspan dy="-8.5"> = 185 <tspan font-weight="normal">±</tspan> 11 mC/cm<tspan font-size="12" dy="-8.5">2</tspan></tspan></text>
<text x="553.8" y="998.7" font-size="20.9" text-anchor="start" fill="#52309e" font-weight="bold" >Restructured Ti</text>
<text x="574.0" y="1027.1" font-size="20.9" fill="#52309e" font-weight="bold">(89 MJ/cm<tspan font-weight="normal" font-size="12" dy="-8">2</tspan><tspan dy="8">)</tspan></text>
<text x="435.3" y="1087.2" font-size="21.4" fill="#52309e" font-weight="bold">CSC<tspan font-size="12" dy="7.5">total</tspan><tspan dy="-7.5"> =</tspan></text>
<text x="395.6" y="1116.1" font-size="21" fill="#52309e" font-weight="bold">202 <tspan font-weight="normal">±</tspan> 13 mC/cm<tspan font-weight="normal" font-size="12" dy="-8">2</tspan><tspan dy="8">)</tspan></text>
<text x="497.7" y="1260.5" font-size="20.86" fill="#df2e22" font-weight="bold">TiN Coating (4.5 <tspan font-weight="normal">µ</tspan>m thick)</text>
<text x="497.2" y="1305" font-size="20.93" fill="#df2e22" font-weight="bold">CSC<tspan font-size="12" dy="8.5">total</tspan><tspan dy="-8.5"> = 192 <tspan font-weight="normal">±</tspan> 6 mC/cm<tspan font-size="12" dy="-8.5">2</tspan></tspan></text>
<path d="M1049.5,788.7H1589.7" stroke="#34389a" stroke-width="1.4" fill="none"/>
<path d="M1050.2,788.7V1355.5" stroke="#5e6095" stroke-width="1.4" fill="none"/>
<path d="M1049.5,1355.5H1589.0V788.7" stroke="#44468e" stroke-width="1.4" fill="none"/>
<path d="M1127.2,1355.5v-9M1127.2,788.7v9M1204.2,1355.5v-9M1204.2,788.7v9M1281.2,1355.5v-9M1281.2,788.7v9M1358.2,1355.5v-9M1358.2,788.7v9M1435.2,1355.5v-9M1435.2,788.7v9M1512.2,1355.5v-9M1512.2,788.7v9M1050.2,1242.14h9M1050.2,1128.78h9M1050.2,1015.42h9M1050.2,902.06h9M1589.0,1261.03h-9.5M1589.0,1166.56h-9.5M1589.0,1072.09h-9.5M1589.0,977.62h-9.5M1589.0,883.15h-9.5" stroke="#3b3d8e" stroke-width="1.6" fill="none"/>
<path d="M1065,1341V1346M1061.5,1341h7M1061.5,1346h7M1080.7,1325V1329M1077.2,1325h7M1077.2,1329h7M1119.5,1299.2V1314.8M1116,1299.2h7M1116,1314.8h7M1149.9,1216.4V1237.4M1146.4,1216.4h7M1146.4,1237.4h7M1196.3,1149.5V1215.4M1192.8,1149.5h7M1192.8,1215.4h7M1289,984V1036M1285.5,984h7M1285.5,1036h7M1581.5,869.4V926.5M1578,869.4h7M1578,926.5h7" stroke="#2f6b3c" stroke-width="1.3" fill="none"/>
<path d="M1065.4,1345V1349M1061.9,1345h7M1061.9,1349h7M1080.7,1329V1333M1077.2,1329h7M1077.2,1333h7M1119.2,1314.5V1323.3M1115.7,1314.5h7M1115.7,1323.3h7M1150.4,1255.6V1266.3M1146.9,1255.6h7M1146.9,1266.3h7M1196.3,1181.8V1235.2M1192.8,1181.8h7M1192.8,1235.2h7M1289,1015.2V1059.4M1285.5,1015.2h7M1285.5,1059.4h7M1581.6,866.8V917.9M1578.1,866.8h7M1578.1,917.9h7" stroke="#b53a3a" stroke-width="1.3" fill="none"/>
<polyline points="1065.4,1347 1080.7,1331 1119.2,1318.9 1150.4,1260.6 1196.3,1208.5 1289,1037.3 1581.6,892.2" fill="none" stroke="#b53a3a" stroke-width="1.3"/>
<polyline points="1065,1343.4 1080.7,1327 1119.5,1307 1149.9,1226.4 1196.3,1182.1 1289,1010 1581.5,897.7" fill="none" stroke="#2f6b3c" stroke-width="1.3"/>
<circle cx="1065" cy="1343.4" r="6.3" fill="#fff"/>
<circle cx="1080.7" cy="1327" r="6.3" fill="#fff"/>
<circle cx="1119.5" cy="1307" r="6.3" fill="#fff"/>
<circle cx="1149.9" cy="1226.4" r="6.3" fill="#fff"/>
<circle cx="1196.3" cy="1182.1" r="6.3" fill="#fff"/>
<circle cx="1289" cy="1010" r="6.3" fill="#fff"/>
<circle cx="1581.5" cy="897.7" r="6.3" fill="#fff"/>
<rect x="1060.4" y="1342" width="10" height="10" fill="#fff"/>
<rect x="1075.7" y="1326" width="10" height="10" fill="#fff"/>
<rect x="1114.2" y="1313.9" width="10" height="10" fill="#fff"/>
<rect x="1145.4" y="1255.6" width="10" height="10" fill="#fff"/>
<rect x="1191.3" y="1203.5" width="10" height="10" fill="#fff"/>
<rect x="1284" y="1032.3" width="10" height="10" fill="#fff"/>
<rect x="1576.6" y="887.2" width="10" height="10" fill="#fff"/>
<rect x="1060.4" y="1342" width="10" height="10" fill="none" stroke="#b53a3a" stroke-width="1.3"/>
<rect x="1075.7" y="1326" width="10" height="10" fill="none" stroke="#b53a3a" stroke-width="1.3"/>
<rect x="1114.2" y="1313.9" width="10" height="10" fill="none" stroke="#b53a3a" stroke-width="1.3"/>
<rect x="1145.4" y="1255.6" width="10" height="10" fill="none" stroke="#b53a3a" stroke-width="1.3"/>
<rect x="1191.3" y="1203.5" width="10" height="10" fill="none" stroke="#b53a3a" stroke-width="1.3"/>
<rect x="1284" y="1032.3" width="10" height="10" fill="none" stroke="#b53a3a" stroke-width="1.3"/>
<rect x="1576.6" y="887.2" width="10" height="10" fill="none" stroke="#b53a3a" stroke-width="1.3"/>
<circle cx="1065" cy="1343.4" r="6.3" fill="none" stroke="#2f6b3c" stroke-width="1.3"/>
<circle cx="1080.7" cy="1327" r="6.3" fill="none" stroke="#2f6b3c" stroke-width="1.3"/>
<circle cx="1119.5" cy="1307" r="6.3" fill="none" stroke="#2f6b3c" stroke-width="1.3"/>
<circle cx="1149.9" cy="1226.4" r="6.3" fill="none" stroke="#2f6b3c" stroke-width="1.3"/>
<circle cx="1196.3" cy="1182.1" r="6.3" fill="none" stroke="#2f6b3c" stroke-width="1.3"/>
<circle cx="1289" cy="1010" r="6.3" fill="none" stroke="#2f6b3c" stroke-width="1.3"/>
<circle cx="1581.5" cy="897.7" r="6.3" fill="none" stroke="#2f6b3c" stroke-width="1.3"/>
<path d="M1268.7,1021.1 H1205" stroke="#007f16" stroke-width="3.6" fill="none"/>
<path d="M1188.3,1021.1 L1216.6,1010.8 L1208.6,1021.1 L1216.6,1032.0 Z" fill="#007f16"/>
<path d="M1307.6,1043.5 L1375,1044.8" stroke="#df2e22" stroke-width="3.6" fill="none"/>
<path d="M1390.6,1045 L1363.3,1033.8 L1371.2,1044.7 L1363.3,1055.9 Z" fill="#df2e22"/>
<text x="1029.3" y="800.3" font-size="29.5" text-anchor="end" fill="#000" font-weight="bold" >250</text>
<text x="1029.3" y="911.9" font-size="29.5" text-anchor="end" fill="#000" font-weight="bold" >200</text>
<text x="1029.3" y="1025" font-size="29.5" text-anchor="end" fill="#000" font-weight="bold" >150</text>
<text x="1029.3" y="1138.1" font-size="29.5" text-anchor="end" fill="#000" font-weight="bold" >100</text>
<text x="1031.3" y="1251.1" font-size="29.5" text-anchor="end" fill="#000" font-weight="bold" >50</text>
<text x="1033.4" y="1362.7" font-size="29.5" text-anchor="end" fill="#000" font-weight="bold" >0</text>
<text x="1610.5" y="802.1" font-size="29.5" text-anchor="start" fill="#000" font-weight="bold" >600</text>
<text x="1610.5" y="895.1" font-size="29.5" text-anchor="start" fill="#000" font-weight="bold" >500</text>
<text x="1610.5" y="987.3" font-size="29.5" text-anchor="start" fill="#000" font-weight="bold" >400</text>
<text x="1610.5" y="1081" font-size="29.5" text-anchor="start" fill="#000" font-weight="bold" >300</text>
<text x="1610.5" y="1173.5" font-size="29.5" text-anchor="start" fill="#000" font-weight="bold" >200</text>
<text x="1610.5" y="1266.7" font-size="29.5" text-anchor="start" fill="#000" font-weight="bold" >100</text>
<text x="1610.5" y="1359.8" font-size="29.5" text-anchor="start" fill="#000" font-weight="bold" >000</text>
<text x="1050.2" y="1400.9" font-size="29.5" text-anchor="middle" fill="#000" font-weight="bold" >20</text>
<text x="1127.2" y="1400.9" font-size="29.5" text-anchor="middle" fill="#000" font-weight="bold" >30</text>
<text x="1204.2" y="1400.9" font-size="29.5" text-anchor="middle" fill="#000" font-weight="bold" >40</text>
<text x="1281.2" y="1400.9" font-size="29.5" text-anchor="middle" fill="#000" font-weight="bold" >50</text>
<text x="1358.2" y="1400.9" font-size="29.5" text-anchor="middle" fill="#000" font-weight="bold" >60</text>
<text x="1435.2" y="1400.9" font-size="29.5" text-anchor="middle" fill="#000" font-weight="bold" >70</text>
<text x="1512.2" y="1400.9" font-size="29.5" text-anchor="middle" fill="#000" font-weight="bold" >80</text>
<text x="1589.2" y="1400.9" font-size="29.5" text-anchor="middle" fill="#000" font-weight="bold" >90</text>
<text x="1200.4" y="1464.1" font-size="29.5" font-weight="bold">Fluence (MJ/cm<tspan font-size="18" dy="-12">2</tspan><tspan dy="12">)</tspan></text>
<text x="935.4" y="1071.9" font-size="30" text-anchor="middle" font-weight="bold" transform="rotate(-90 935.4 1071.9)">CSC<tspan font-size="19" dy="7">total</tspan><tspan dy="-7"> (mC/cm</tspan><tspan font-size="19" dy="-12">2</tspan><tspan dy="12">)</tspan></text>
<text x="1701.5" y="1072.3" font-size="29.3" text-anchor="middle" font-weight="bold" transform="rotate(90 1701.5 1072.3)">Specific capacitance (<tspan font-weight="normal">µ</tspan>F/mm<tspan font-size="19" dy="-12">2</tspan><tspan dy="12">)</tspan></text>
</svg>
</body></html>
